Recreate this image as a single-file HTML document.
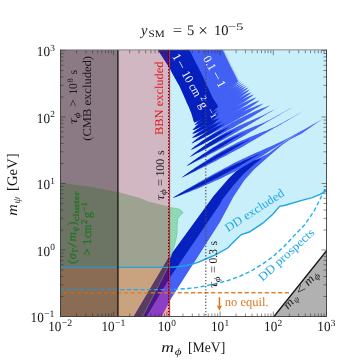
<!DOCTYPE html>
<html><head><meta charset="utf-8"><title>plot</title>
<style>
html,body{margin:0;padding:0;background:#fff;}
body{width:356px;height:362px;overflow:hidden;font-family:"Liberation Serif",serif;}
svg{display:block;}
svg text{font-family:"Liberation Serif",serif;text-rendering:geometricPrecision;}
</style></head><body>
<svg width="356" height="362" viewBox="0 0 356 362">
<rect width="356" height="362" fill="#fff"/>
<clipPath id="fr"><rect x="60" y="50" width="267" height="267"/></clipPath>
<g clip-path="url(#fr)">
<polygon points="60.0,50.0 327.0,50.0 327.0,190.6 320.0,194.4 312.2,197.6 300.0,200.8 285.2,205.2 279.6,206.3 272.8,214.2 262.7,223.2 258.0,226.4 249.2,232.0 241.3,234.5 234.0,241.5 228.0,247.8 215.5,254.8 205.7,259.0 198.0,262.3 190.0,264.8 180.0,266.5 169.4,267.4 60.0,267.4" fill="#c9effb" />
<polygon points="145.3,26.2 145.3,26.3 145.3,26.3 145.4,26.4 145.4,26.4 145.4,26.5 145.4,26.5 145.5,26.5 145.5,26.6 145.5,26.6 145.6,26.7 145.6,26.7 145.6,26.8 145.6,26.8 145.7,26.9 145.7,26.9 145.7,27.0 145.7,27.0 145.8,27.1 145.8,27.1 145.8,27.2 145.9,27.2 145.9,27.2 145.9,27.3 145.9,27.3 146.0,27.4 146.0,27.4 146.0,27.5 146.0,27.5 146.1,27.6 146.1,27.6 146.1,27.7 146.2,27.7 146.2,27.8 146.2,27.8 146.2,27.9 146.3,27.9 146.3,28.0 146.3,28.0 146.3,28.1 146.4,28.1 146.4,28.2 146.4,28.2 146.5,28.3 146.5,28.3 146.5,28.4 146.5,28.4 146.6,28.5 146.6,28.5 146.6,28.6 146.7,28.6 146.7,28.7 146.7,28.7 146.7,28.8 146.8,28.8 146.8,28.9 146.8,28.9 146.9,29.0 146.9,29.0 146.9,29.1 147.0,29.1 147.0,29.2 147.0,29.2 147.0,29.3 147.1,29.3 147.1,29.4 147.1,29.4 147.2,29.5 147.2,29.5 147.2,29.6 147.2,29.6 147.3,29.7 147.3,29.7 147.3,29.8 147.4,29.8 147.4,29.9 147.4,29.9 147.5,30.0 147.5,30.0 147.5,30.1 147.5,30.1 147.6,30.2 147.6,30.3 147.6,30.3 147.7,30.4 147.7,30.4 147.7,30.5 147.8,30.5 147.8,30.6 147.8,30.6 147.9,30.7 147.9,30.7 147.9,30.8 148.0,30.8 148.0,30.9 148.0,31.0 148.0,31.0 148.1,31.1 148.1,31.1 148.1,31.2 148.2,31.2 148.2,31.3 148.2,31.3 148.3,31.4 148.3,31.4 148.3,31.5 148.4,31.6 148.4,31.6 148.4,31.7 148.5,31.7 148.5,31.8 148.5,31.8 148.6,31.9 148.6,32.0 148.6,32.0 148.7,32.1 148.7,32.1 148.7,32.2 148.8,32.2 148.8,32.3 148.8,32.4 148.9,32.4 148.9,32.5 148.9,32.5 149.0,32.6 149.0,32.7 149.0,32.7 149.1,32.8 149.1,32.8 149.1,32.9 149.2,32.9 149.2,33.0 149.2,33.1 149.3,33.1 149.3,33.2 149.3,33.2 149.4,33.3 149.4,33.4 149.4,33.4 149.5,33.5 149.5,33.5 149.5,33.6 149.6,33.7 149.6,33.7 149.7,33.8 149.7,33.9 149.7,33.9 149.8,34.0 149.8,34.0 149.8,34.1 149.9,34.2 149.9,34.2 149.9,34.3 150.0,34.3 150.0,34.4 150.0,34.5 150.1,34.5 150.1,34.6 150.2,34.7 150.2,34.7 150.2,34.8 150.3,34.9 150.3,34.9 150.3,35.0 150.4,35.0 150.4,35.1 150.5,35.2 150.5,35.2 150.5,35.3 150.6,35.4 150.6,35.4 150.6,35.5 150.7,35.6 150.7,35.6 150.8,35.7 150.8,35.8 150.8,35.8 150.9,35.9 150.9,36.0 150.9,36.0 151.0,36.1 151.0,36.2 151.1,36.2 151.1,36.3 151.1,36.4 151.2,36.4 151.2,36.5 151.3,36.6 151.3,36.6 151.3,36.7 151.4,36.8 151.4,36.9 151.5,36.9 151.5,37.0 151.5,37.1 151.6,37.1 151.6,37.2 151.7,37.3 151.7,37.3 151.7,37.4 151.8,37.5 151.8,37.6 151.9,37.6 151.9,37.7 151.9,37.8 152.0,37.8 152.0,37.9 152.1,38.0 152.1,38.1 152.2,38.1 152.2,38.2 152.2,38.3 152.3,38.4 152.3,38.4 152.4,38.5 152.4,38.6 152.5,38.7 152.5,38.7 152.5,38.8 152.6,38.9 152.6,39.0 152.7,39.0 152.7,39.1 152.8,39.2 152.8,39.3 152.8,39.3 152.9,39.4 152.9,39.5 153.0,39.6 153.0,39.6 153.1,39.7 153.1,39.8 153.2,39.9 153.2,40.0 153.3,40.0 153.3,40.1 153.3,40.2 153.4,40.3 153.4,40.4 153.5,40.4 153.5,40.5 153.6,40.6 153.6,40.7 153.7,40.8 153.7,40.8 153.8,40.9 153.8,41.0 153.9,41.1 153.9,41.2 154.0,41.2 154.0,41.3 154.0,41.4 154.1,41.5 154.1,41.6 154.2,41.7 154.2,41.7 154.3,41.8 154.3,41.9 154.4,42.0 154.4,42.1 154.5,42.2 154.5,42.3 154.6,42.3 154.6,42.4 154.7,42.5 154.7,42.6 154.8,42.7 154.8,42.8 154.9,42.9 154.9,43.0 155.0,43.0 155.0,43.1 155.1,43.2 155.1,43.3 155.2,43.4 155.2,43.5 155.3,43.6 155.4,43.7 155.4,43.8 155.5,43.9 155.5,44.0 155.6,44.0 155.6,44.1 155.7,44.2 155.7,44.3 155.8,44.4 155.8,44.5 155.9,44.6 155.9,44.7 156.0,44.8 156.1,44.9 156.1,45.0 156.2,45.1 156.2,45.2 156.3,45.3 156.3,45.4 156.4,45.5 156.4,45.6 156.5,45.7 156.6,45.8 156.6,45.9 156.7,46.0 156.7,46.1 156.8,46.2 156.8,46.3 156.9,46.4 157.0,46.5 157.0,46.6 157.1,46.7 157.1,46.8 157.2,46.9 157.3,47.0 157.3,47.1 157.4,47.2 157.4,47.3 157.5,47.4 157.6,47.5 157.6,47.6 157.7,47.7 157.8,47.8 157.8,47.9 157.9,48.1 157.9,48.2 158.0,48.3 158.1,48.4 158.1,48.5 158.2,48.6 158.3,48.7 158.3,48.8 158.4,48.9 158.5,49.1 158.5,49.2 158.6,49.3 158.7,49.4 158.7,49.5 158.8,49.6 158.9,49.7 158.9,49.9 159.0,50.0 159.1,50.1 159.1,50.2 159.2,50.3 159.3,50.4 159.3,50.6 159.4,50.7 159.5,50.8 159.6,50.9 159.6,51.0 159.7,51.2 159.8,51.3 159.8,51.4 159.9,51.5 160.0,51.7 160.1,51.8 160.1,51.9 160.2,52.0 160.3,52.2 160.4,52.3 160.4,52.4 160.5,52.6 160.6,52.7 160.7,52.8 160.7,52.9 160.8,53.1 160.9,53.2 161.0,53.3 161.1,53.5 161.1,53.6 161.2,53.7 161.3,53.9 161.4,54.0 161.5,54.2 161.6,54.3 161.6,54.4 161.7,54.6 161.8,54.7 161.9,54.9 162.0,55.0 162.1,55.1 162.1,55.3 162.2,55.4 162.3,55.6 162.4,55.7 162.5,55.9 162.6,56.0 162.7,56.2 162.8,56.3 162.8,56.5 162.9,56.6 163.0,56.8 163.1,56.9 163.2,57.1 163.3,57.2 163.4,57.4 163.5,57.6 163.6,57.7 163.7,57.9 163.8,58.0 163.9,58.2 164.0,58.4 164.1,58.5 164.2,58.7 164.3,58.9 164.4,59.0 164.5,59.2 164.6,59.4 164.7,59.5 164.8,59.7 164.9,59.9 165.0,60.1 165.1,60.2 165.2,60.4 165.3,60.6 165.4,60.8 165.5,60.9 165.6,61.1 165.7,61.3 165.8,61.5 165.9,61.7 166.1,61.9 166.2,62.1 166.3,62.3 166.4,62.4 166.5,62.6 166.6,62.8 166.7,63.0 166.9,63.2 167.0,63.4 167.1,63.6 167.2,63.8 167.3,64.0 167.5,64.2 167.6,64.5 167.7,64.7 167.8,64.9 168.0,65.1 168.1,65.3 168.2,65.5 168.4,65.7 168.5,66.0 168.6,66.2 168.8,66.4 168.9,66.6 169.0,66.9 169.2,67.1 169.3,67.4 169.4,67.6 169.5,67.8 169.7,68.1 169.8,68.3 169.9,68.6 170.1,68.9 170.2,69.1 170.3,69.4 170.5,69.6 170.6,69.9 170.8,70.2 170.9,70.5 171.0,70.7 171.2,71.0 171.3,71.3 171.5,71.6 171.6,71.9 171.8,72.2 171.9,72.4 172.1,72.7 172.3,73.0 172.4,73.4 172.6,73.7 172.7,74.0 172.9,74.3 173.1,74.6 173.2,74.9 173.4,75.3 173.6,75.6 173.8,75.9 174.0,76.3 174.2,76.6 174.3,77.0 174.5,77.3 174.7,77.7 175.0,78.0 175.2,78.4 175.4,78.8 175.6,79.1 175.8,79.5 176.0,79.9 176.2,80.3 176.5,80.7 176.7,81.1 176.9,81.5 177.2,81.9 177.4,82.4 177.7,82.8 177.9,83.2 178.2,83.7 178.4,84.2 178.7,84.6 179.0,85.1 179.3,85.6 179.5,86.1 179.8,86.6 180.0,87.2 180.3,87.7 180.5,88.3 180.8,88.9 181.1,89.5 181.3,90.1 181.6,90.7 181.9,91.3 182.2,92.0 182.5,92.6 182.8,93.3 183.1,94.0 183.4,94.8 183.8,95.5 184.1,96.3 184.5,97.0 184.8,97.9 185.2,98.7 185.6,99.6 186.0,100.5 186.4,101.4 186.8,102.4 187.2,103.4 187.7,104.4 188.2,105.5 188.7,106.6 189.2,107.8 189.7,109.1 190.3,110.4 190.8,111.7 238.3,81.3 237.5,80.0 236.9,78.8 236.3,77.6 235.8,76.5 235.2,75.5 234.7,74.4 234.2,73.4 233.7,72.5 233.3,71.6 232.8,70.7 232.4,69.9 232.0,69.0 231.6,68.2 231.2,67.5 230.8,66.7 230.4,66.0 230.1,65.3 229.7,64.6 229.4,63.9 229.1,63.2 228.8,62.6 228.5,61.9 228.2,61.3 227.9,60.7 227.6,60.1 227.4,59.6 227.1,59.0 226.8,58.4 226.6,57.9 226.3,57.4 226.1,56.9 225.8,56.4 225.6,55.9 225.4,55.4 225.1,54.9 224.9,54.4 224.7,54.0 224.5,53.5 224.3,53.1 224.1,52.6 223.9,52.2 223.6,51.8 223.4,51.4 223.3,51.0 223.1,50.6 222.9,50.2 222.7,49.8 222.5,49.4 222.3,49.0 222.2,48.6 222.0,48.3 221.8,47.9 221.6,47.6 221.5,47.2 221.3,46.9 221.2,46.5 221.0,46.2 220.8,45.8 220.7,45.5 220.5,45.2 220.4,44.9 220.2,44.5 220.1,44.2 219.9,43.9 219.8,43.6 219.7,43.3 219.5,43.0 219.4,42.7 219.2,42.4 219.1,42.1 219.0,41.8 218.8,41.6 218.7,41.3 218.6,41.0 218.4,40.7 218.3,40.5 218.2,40.2 218.1,39.9 217.9,39.7 217.8,39.4 217.7,39.1 217.6,38.9 217.5,38.6 217.3,38.4 217.2,38.1 217.1,37.9 217.0,37.6 216.9,37.4 216.8,37.2 216.7,36.9 216.6,36.7 216.4,36.5 216.3,36.2 216.2,36.0 216.1,35.8 216.0,35.6 215.9,35.3 215.8,35.1 215.7,34.9 215.6,34.7 215.5,34.5 215.4,34.3 215.3,34.1 215.2,33.9 215.1,33.7 214.9,33.5 214.8,33.3 214.7,33.1 214.6,32.9 214.5,32.7 214.5,32.5 214.4,32.3 214.3,32.1 214.2,31.9 214.1,31.7 214.0,31.5 213.9,31.3 213.8,31.2 213.7,31.0 213.6,30.8 213.5,30.6 213.4,30.4 213.3,30.3 213.2,30.1 213.2,29.9 213.1,29.7 213.0,29.6 212.9,29.4 212.8,29.2 212.7,29.0 212.6,28.9 212.6,28.7 212.5,28.5 212.4,28.4 212.3,28.2 212.2,28.0 212.1,27.9 212.1,27.7 212.0,27.6 211.9,27.4 211.8,27.2 211.7,27.1 211.7,26.9 211.6,26.8 211.5,26.6 211.4,26.5 211.4,26.3 211.3,26.2 211.2,26.0 211.1,25.9 211.1,25.7 211.0,25.6 210.9,25.4 210.8,25.3 210.8,25.1 210.7,25.0 210.6,24.8 210.5,24.7 210.5,24.6 210.4,24.4 210.3,24.3 210.3,24.1 210.2,24.0 210.1,23.9 210.0,23.7 210.0,23.6 209.9,23.5 209.8,23.3 209.8,23.2 209.7,23.1 209.6,22.9 209.6,22.8 209.5,22.7 209.4,22.5 209.4,22.4 209.3,22.3 209.2,22.1 209.2,22.0 209.1,21.9 209.1,21.8 209.0,21.6 208.9,21.5 208.9,21.4 208.8,21.3 208.7,21.1 208.7,21.0 208.6,20.9 208.6,20.8 208.5,20.6 208.4,20.5 208.4,20.4 208.3,20.3 208.3,20.2 208.2,20.0 208.1,19.9 208.1,19.8 208.0,19.7 208.0,19.6 207.9,19.5 207.8,19.3 207.8,19.2 207.7,19.1 207.7,19.0 207.6,18.9 207.6,18.8 207.5,18.7 207.4,18.5 207.4,18.4 207.3,18.3 207.3,18.2 207.2,18.1 207.2,18.0 207.1,17.9 207.1,17.8 207.0,17.7 206.9,17.6 206.9,17.5 206.8,17.3 206.8,17.2 206.7,17.1 206.7,17.0 206.6,16.9 206.6,16.8 206.5,16.7 206.5,16.6 206.4,16.5 206.4,16.4 206.3,16.3 206.3,16.2 206.2,16.1 206.2,16.0 206.1,15.9 206.1,15.8 206.0,15.7 206.0,15.6 205.9,15.5 205.9,15.4 205.8,15.3 205.8,15.2 205.7,15.1 205.7,15.0 205.6,14.9 205.6,14.8 205.5,14.7 205.5,14.6 205.4,14.5 205.4,14.4 205.3,14.3 205.3,14.3 205.2,14.2 205.2,14.1 205.1,14.0 205.1,13.9 205.0,13.8 205.0,13.7 205.0,13.6 204.9,13.5 204.9,13.4 204.8,13.3 204.8,13.2 204.7,13.1 204.7,13.1 204.6,13.0 204.6,12.9 204.5,12.8 204.5,12.7 204.5,12.6 204.4,12.5 204.4,12.4 204.3,12.4 204.3,12.3 204.2,12.2 204.2,12.1 204.2,12.0 204.1,11.9 204.1,11.8 204.0,11.7 204.0,11.7 203.9,11.6 203.9,11.5 203.9,11.4 203.8,11.3 203.8,11.2 203.7,11.2 203.7,11.1 203.6,11.0 203.6,10.9 203.6,10.8 203.5,10.7 203.5,10.7 203.4,10.6 203.4,10.5 203.4,10.4 203.3,10.3 203.3,10.3 203.2,10.2 203.2,10.1 203.2,10.0 203.1,9.9 203.1,9.9 203.0,9.8 203.0,9.7 203.0,9.6 202.9,9.5 202.9,9.5 202.8,9.4 202.8,9.3 202.8,9.2 202.7,9.2 202.7,9.1 202.6,9.0 202.6,8.9 202.6,8.9 202.5,8.8 202.5,8.7 202.5,8.6 202.4,8.6 202.4,8.5 202.3,8.4 202.3,8.3 202.3,8.3 202.2,8.2 202.2,8.1 202.2,8.0 202.1,8.0 202.1,7.9 202.0,7.8 202.0,7.7 202.0,7.7 201.9,7.6 201.9,7.5 201.9,7.5 201.8,7.4 201.8,7.3 201.8,7.2 201.7,7.2 201.7,7.1 201.7,7.0 201.6,7.0 201.6,6.9 201.5,6.8 201.5,6.7 201.5,6.7 201.4,6.6 201.4,6.5 201.4,6.5 201.3,6.4 201.3,6.3 201.3,6.3 201.2,6.2 201.2,6.1 201.2,6.1 201.1,6.0 201.1,5.9 201.1,5.9 201.0,5.8 201.0,5.7 201.0,5.7 200.9,5.6 200.9,5.5 200.9,5.5 200.8,5.4 200.8,5.3 200.8,5.3 200.7,5.2 200.7,5.1 200.7,5.1 200.6,5.0 200.6,4.9 200.6,4.9 200.5,4.8 200.5,4.7 200.5,4.7 200.4,4.6 200.4,4.5 200.4,4.5 200.3,4.4 200.3,4.4 200.3,4.3 200.2,4.2 200.2,4.2 200.2,4.1 200.1,4.0 200.1,4.0 200.1,3.9 200.1,3.8 200.0,3.8 200.0,3.7 200.0,3.7 199.9,3.6 199.9,3.5 199.9,3.5 199.8,3.4 199.8,3.4 199.8,3.3 199.7,3.2 199.7,3.2 199.7,3.1 199.7,3.1 199.6,3.0 199.6,2.9 199.6,2.9 199.5,2.8 199.5,2.8 199.5,2.7 199.4,2.6 199.4,2.6 199.4,2.5 199.4,2.5 199.3,2.4 199.3,2.3 199.3,2.3 199.2,2.2 199.2,2.2 199.2,2.1 199.1,2.0 199.1,2.0 199.1,1.9 199.1,1.9 199.0,1.8 199.0,1.8 199.0,1.7 198.9,1.6 198.9,1.6 198.9,1.5 198.9,1.5 198.8,1.4 198.8,1.4 198.8,1.3 198.7,1.2 198.7,1.2 198.7,1.1 198.7,1.1 198.6,1.0 198.6,1.0 198.6,0.9 198.6,0.9 198.5,0.8 198.5,0.7 198.5,0.7 198.4,0.6 198.4,0.6 198.4,0.5 198.4,0.5 198.3,0.4 198.3,0.4 198.3,0.3 198.2,0.3 198.2,0.2 198.2,0.2 198.2,0.1 198.1,0.0 198.1,-0.0 198.1,-0.1 198.1,-0.1 198.0,-0.2 198.0,-0.2 198.0,-0.3 198.0,-0.3 197.9,-0.4 197.9,-0.4 197.9,-0.5 197.8,-0.5 197.8,-0.6 197.8,-0.6 197.8,-0.7 197.7,-0.7 197.7,-0.8 197.7,-0.8 197.7,-0.9 197.6,-1.0 197.6,-1.0 197.6,-1.1 197.6,-1.1 197.5,-1.2 197.5,-1.2 197.5,-1.3 197.5,-1.3 197.4,-1.4 197.4,-1.4 197.4,-1.5 197.4,-1.5 197.3,-1.6 197.3,-1.6 197.3,-1.7 197.3,-1.7 197.2,-1.8 197.2,-1.8 197.2,-1.9 197.2,-1.9 197.1,-2.0 197.1,-2.0 197.1,-2.1 197.1,-2.1 197.0,-2.2 197.0,-2.2 197.0,-2.3 197.0,-2.3 196.9,-2.4 196.9,-2.4 196.9,-2.5 196.9,-2.5 196.8,-2.5 196.8,-2.6 196.8,-2.6 196.8,-2.7 196.7,-2.7 196.7,-2.8 196.7,-2.8 196.7,-2.9 196.6,-2.9 196.6,-3.0 196.6,-3.0 196.6,-3.1 196.6,-3.1 196.5,-3.2 196.5,-3.2 196.5,-3.3 196.5,-3.3 196.4,-3.4 196.4,-3.4 196.4,-3.4 196.4,-3.5 196.3,-3.5 196.3,-3.6 196.3,-3.6 196.3,-3.7 196.2,-3.7 196.2,-3.8 196.2,-3.8 196.2,-3.9" fill="#4361f4" />
<polygon points="172.6,198.0 175.6,196.1 178.6,194.2 181.6,192.4 184.7,190.6 187.7,188.8 190.8,187.0 193.8,185.3 196.9,183.5 199.9,181.7 203.0,180.0 206.1,178.2 209.2,176.5 212.3,174.8 215.4,173.1 218.5,171.4 221.6,169.7 224.7,168.1 227.8,166.4 230.9,164.8 234.0,163.1 237.2,161.5 240.4,160.0 243.6,158.5 246.8,157.0 250.0,155.5 253.2,154.0 256.4,152.6 259.7,151.2 262.9,149.8 266.2,148.3 269.4,146.9 272.7,145.5 275.9,144.1 279.1,142.6 282.3,141.1 285.5,139.6 288.6,138.0 291.7,136.3 294.8,134.5 297.9,132.8 301.0,131.1 304.1,129.4 307.2,127.7 310.2,125.9 313.3,124.2 316.4,122.4 319.4,120.7 322.5,118.9 322.5,118.9 319.5,120.7 316.5,122.6 313.4,124.4 310.4,126.2 307.4,128.0 304.3,129.8 301.3,131.6 298.2,133.4 295.2,135.2 292.1,137.0 289.1,138.8 286.0,140.6 283.0,142.4 280.0,144.4 277.1,146.3 274.1,148.2 271.1,150.1 268.1,152.1 265.1,154.0 262.1,155.9 259.1,157.7 256.1,159.6 253.1,161.4 250.1,163.2 247.0,165.0 243.9,166.7 240.8,168.4 237.7,170.0 234.6,171.7 231.4,173.2 228.2,174.8 225.1,176.3 221.9,177.9 218.7,179.4 215.4,180.8 212.2,182.3 209.0,183.7 205.7,185.1 202.5,186.5 199.2,187.9 195.9,189.2 192.6,190.5 189.3,191.9 186.0,193.1 182.7,194.4 179.3,195.7 176.0,196.9 172.6,198.0" fill="#4361f4" />
<polygon points="181.4,177.8 183.7,175.9 186.1,174.2 188.6,172.4 191.0,170.7 193.4,169.0 195.9,167.3 198.3,165.7 200.8,164.0 203.3,162.4 205.8,160.8 208.3,159.2 210.8,157.6 213.3,156.1 215.8,154.5 218.3,153.0 220.9,151.5 223.5,150.0 226.0,148.6 228.6,147.2 231.2,145.7 233.8,144.4 236.5,143.1 239.1,141.8 241.8,140.6 244.5,139.4 247.3,138.2 250.0,137.0 252.8,135.9 255.5,134.8 258.3,133.7 261.0,132.6 263.8,131.5 266.6,130.4 269.3,129.3 272.0,128.1 274.7,126.9 277.4,125.5 280.0,124.1 282.5,122.7 285.1,121.3 287.7,119.8 290.3,118.4 292.9,117.0 295.5,115.6 298.1,114.1 300.6,112.7 303.2,111.2 305.8,109.8 305.8,109.8 303.3,111.3 300.7,112.8 298.2,114.3 295.6,115.8 293.1,117.3 290.5,118.8 288.0,120.3 285.4,121.7 282.8,123.2 280.3,124.7 277.7,126.2 275.2,127.6 272.6,129.1 270.1,130.6 267.5,132.1 265.0,133.6 262.4,135.1 259.9,136.6 257.3,138.1 254.8,139.6 252.2,141.1 249.7,142.6 247.1,144.0 244.5,145.5 242.0,147.0 239.4,148.4 236.8,149.8 234.2,151.2 231.6,152.6 229.0,154.0 226.4,155.4 223.8,156.8 221.1,158.1 218.5,159.5 215.9,160.9 213.3,162.2 210.6,163.5 208.0,164.9 205.4,166.2 202.7,167.5 200.1,168.8 197.4,170.1 194.8,171.4 192.1,172.7 189.4,174.0 186.8,175.3 184.1,176.6 181.4,177.8" fill="#4361f4" />
<polygon points="186.7,166.0 188.7,164.3 190.8,162.8 192.8,161.2 194.9,159.7 197.0,158.2 199.1,156.7 201.2,155.3 203.3,153.8 205.5,152.4 207.6,150.9 209.7,149.5 211.9,148.1 214.0,146.8 216.2,145.4 218.4,144.1 220.6,142.7 222.8,141.4 225.0,140.1 227.2,138.9 229.5,137.6 231.7,136.4 234.0,135.3 236.3,134.2 238.6,133.1 241.0,132.0 243.3,131.0 245.7,130.0 248.1,129.0 250.5,128.0 252.9,127.1 255.3,126.1 257.7,125.2 260.0,124.2 262.4,123.2 264.8,122.2 267.1,121.1 269.4,119.9 271.6,118.7 273.9,117.5 276.1,116.3 278.4,115.0 280.6,113.8 282.8,112.5 285.1,111.3 287.3,110.0 289.5,108.8 291.8,107.6 294.0,106.3 294.0,106.3 291.8,107.6 289.6,108.9 287.4,110.2 285.2,111.5 283.0,112.8 280.8,114.1 278.6,115.4 276.3,116.7 274.1,118.0 271.9,119.2 269.7,120.5 267.5,121.8 265.3,123.1 263.1,124.4 260.9,125.7 258.7,127.1 256.5,128.4 254.3,129.7 252.1,131.0 249.9,132.3 247.7,133.6 245.5,134.9 243.3,136.2 241.1,137.4 238.8,138.7 236.6,140.0 234.4,141.2 232.2,142.5 229.9,143.7 227.7,144.9 225.4,146.2 223.2,147.4 220.9,148.6 218.7,149.8 216.4,151.0 214.1,152.2 211.9,153.3 209.6,154.5 207.3,155.7 205.0,156.9 202.8,158.0 200.5,159.2 198.2,160.3 195.9,161.5 193.6,162.6 191.3,163.8 189.0,164.9 186.7,166.0" fill="#4361f4" />
<polygon points="189.7,157.0 191.4,155.5 193.1,154.2 194.8,152.8 196.6,151.5 198.4,150.2 200.1,148.9 201.9,147.6 203.7,146.3 205.5,145.1 207.3,143.8 209.1,142.6 210.9,141.4 212.7,140.2 214.6,139.0 216.4,137.9 218.3,136.7 220.1,135.6 222.0,134.5 223.9,133.4 225.8,132.3 227.7,131.3 229.7,130.3 231.6,129.4 233.6,128.4 235.5,127.5 237.5,126.5 239.5,125.6 241.5,124.7 243.5,123.8 245.5,122.9 247.5,122.0 249.5,121.2 251.5,120.3 253.5,119.4 255.5,118.6 257.5,117.7 259.5,116.8 261.5,115.9 263.5,115.0 265.5,114.1 267.4,113.1 269.3,112.1 271.3,111.0 273.2,110.0 275.1,108.9 277.0,107.9 278.9,106.9 280.8,105.8 280.8,105.8 278.9,106.9 277.1,108.0 275.2,109.1 273.3,110.3 271.4,111.4 269.6,112.5 267.7,113.6 265.8,114.7 264.0,115.8 262.1,116.9 260.2,118.1 258.4,119.2 256.5,120.3 254.6,121.4 252.8,122.5 250.9,123.7 249.0,124.8 247.1,125.9 245.3,127.0 243.4,128.1 241.5,129.2 239.6,130.3 237.7,131.4 235.9,132.5 234.0,133.6 232.1,134.7 230.2,135.7 228.3,136.8 226.4,137.9 224.5,138.9 222.6,140.0 220.7,141.0 218.8,142.0 216.8,143.1 214.9,144.1 213.0,145.1 211.1,146.1 209.1,147.1 207.2,148.2 205.3,149.2 203.3,150.2 201.4,151.2 199.5,152.1 197.5,153.1 195.6,154.1 193.6,155.1 191.7,156.0 189.7,157.0" fill="#4361f4" />
<polygon points="190.8,150.0 192.2,148.6 193.6,147.3 195.1,146.1 196.7,145.0 198.2,143.9 199.7,142.7 201.3,141.6 202.9,140.5 204.4,139.5 206.0,138.4 207.6,137.3 209.1,136.3 210.7,135.3 212.3,134.2 213.9,133.2 215.5,132.2 217.1,131.2 218.8,130.2 220.4,129.2 222.0,128.3 223.6,127.3 225.3,126.3 226.9,125.4 228.6,124.5 230.2,123.6 231.9,122.6 233.5,121.7 235.2,120.9 236.9,120.0 238.6,119.1 240.3,118.3 242.0,117.4 243.7,116.6 245.4,115.8 247.1,114.9 248.8,114.1 250.5,113.3 252.3,112.6 254.0,111.8 255.7,111.0 257.5,110.3 259.2,109.5 261.0,108.8 262.8,108.1 264.5,107.4 266.3,106.7 268.1,106.0 270.0,105.5 270.0,105.5 268.4,106.5 266.8,107.5 265.2,108.5 263.6,109.5 262.0,110.5 260.4,111.5 258.7,112.5 257.1,113.5 255.5,114.5 253.9,115.5 252.3,116.4 250.6,117.4 249.0,118.4 247.4,119.3 245.7,120.3 244.1,121.2 242.5,122.2 240.8,123.2 239.2,124.1 237.6,125.0 235.9,126.0 234.3,126.9 232.6,127.9 231.0,128.8 229.3,129.7 227.7,130.6 226.0,131.5 224.4,132.5 222.7,133.4 221.0,134.3 219.4,135.2 217.7,136.1 216.1,137.0 214.4,137.9 212.7,138.8 211.0,139.7 209.4,140.6 207.7,141.4 206.0,142.3 204.3,143.2 202.7,144.1 201.0,144.9 199.3,145.8 197.6,146.7 195.9,147.5 194.2,148.4 192.5,149.2 190.8,150.0" fill="#4361f4" />
<polygon points="191.6,143.5 192.8,142.2 194.2,141.0 195.5,139.9 196.9,138.8 198.3,137.8 199.7,136.8 201.1,135.8 202.5,134.8 204.0,133.8 205.4,132.8 206.8,131.8 208.3,130.9 209.7,129.9 211.2,129.0 212.6,128.1 214.1,127.1 215.5,126.2 217.0,125.3 218.5,124.4 220.0,123.6 221.5,122.7 223.0,121.8 224.5,121.0 226.0,120.1 227.5,119.3 229.0,118.5 230.5,117.7 232.1,116.9 233.6,116.1 235.1,115.3 236.7,114.6 238.2,113.8 239.8,113.1 241.4,112.3 242.9,111.6 244.5,110.9 246.1,110.2 247.7,109.5 249.3,108.8 250.9,108.2 252.5,107.5 254.1,106.9 255.7,106.2 257.3,105.6 259.0,105.0 260.6,104.4 262.3,103.9 264.0,103.4 264.0,103.4 262.5,104.3 261.1,105.2 259.6,106.2 258.1,107.1 256.7,108.0 255.2,108.8 253.7,109.7 252.2,110.6 250.8,111.5 249.3,112.4 247.8,113.3 246.3,114.2 244.8,115.0 243.3,115.9 241.8,116.8 240.3,117.6 238.8,118.5 237.3,119.3 235.9,120.2 234.4,121.0 232.8,121.9 231.3,122.7 229.8,123.6 228.3,124.4 226.8,125.2 225.3,126.1 223.8,126.9 222.3,127.7 220.8,128.6 219.3,129.4 217.7,130.2 216.2,131.0 214.7,131.8 213.2,132.6 211.6,133.4 210.1,134.2 208.6,135.0 207.1,135.8 205.5,136.6 204.0,137.4 202.4,138.2 200.9,139.0 199.4,139.7 197.8,140.5 196.3,141.3 194.7,142.0 193.2,142.8 191.6,143.5" fill="#4361f4" />
<polygon points="192.0,138.0 194.9,135.2 198.1,133.0 201.3,130.8 204.6,128.8 207.9,126.7 211.2,124.7 214.6,122.8 218.0,120.8 221.3,118.9 224.7,117.0 228.1,115.2 231.6,113.4 235.0,111.6 238.5,109.8 241.9,108.1 245.4,106.4 248.9,104.7 252.5,103.1 256.0,101.5 259.8,100.3 259.8,100.3 256.8,102.8 253.6,105.1 250.3,107.2 247.1,109.3 243.8,111.4 240.5,113.4 237.1,115.4 233.8,117.4 230.4,119.3 227.1,121.3 223.7,123.2 220.3,125.0 216.9,126.9 213.4,128.7 210.0,130.4 206.5,132.2 203.0,133.8 199.5,135.5 195.9,137.0 192.0,138.0" fill="#4361f4" />
<polygon points="192.3,133.8 195.0,131.1 198.0,128.9 201.1,126.8 204.2,124.8 207.3,122.8 210.5,120.9 213.6,119.0 216.8,117.1 220.0,115.2 223.2,113.4 226.4,111.6 229.7,109.9 233.0,108.1 236.2,106.4 239.5,104.7 242.8,103.1 246.2,101.5 249.5,99.9 252.9,98.4 256.5,97.2 256.5,97.2 253.7,99.7 250.6,101.8 247.6,103.9 244.5,106.0 241.4,108.0 238.2,109.9 235.1,111.9 231.9,113.8 228.8,115.7 225.6,117.6 222.4,119.4 219.2,121.2 215.9,123.0 212.7,124.8 209.4,126.5 206.1,128.2 202.8,129.8 199.4,131.4 196.0,132.8 192.3,133.8" fill="#4361f4" />
<polygon points="192.5,130.0 195.1,127.4 197.9,125.2 200.9,123.2 203.8,121.2 206.8,119.3 209.8,117.4 212.9,115.5 215.9,113.7 219.0,111.9 222.1,110.1 225.2,108.3 228.3,106.6 231.4,104.9 234.5,103.3 237.7,101.6 240.9,100.0 244.1,98.4 247.3,96.9 250.6,95.4 254.0,94.3 254.0,94.3 251.3,96.7 248.4,98.8 245.5,100.9 242.5,102.9 239.6,104.8 236.6,106.8 233.6,108.7 230.5,110.5 227.5,112.4 224.4,114.2 221.4,116.0 218.3,117.8 215.2,119.5 212.1,121.2 208.9,122.9 205.8,124.5 202.6,126.1 199.4,127.6 196.1,129.1 192.5,130.0" fill="#4361f4" />
<polygon points="194.8,127.7 197.1,125.1 199.8,123.0 202.5,120.9 205.2,119.0 207.9,117.0 210.7,115.1 213.5,113.3 216.3,111.5 219.2,109.7 222.0,107.9 224.9,106.1 227.8,104.4 230.7,102.7 233.6,101.0 236.5,99.4 239.5,97.8 242.4,96.2 245.4,94.6 248.5,93.2 251.7,92.0 251.7,92.0 249.2,94.4 246.6,96.5 243.9,98.5 241.2,100.5 238.4,102.5 235.7,104.4 232.9,106.3 230.1,108.1 227.3,110.0 224.5,111.8 221.6,113.6 218.8,115.4 215.9,117.1 213.0,118.8 210.1,120.5 207.2,122.1 204.2,123.7 201.2,125.3 198.2,126.7 194.8,127.7" fill="#4361f4" />
<polygon points="194.6,124.9 196.9,122.4 199.5,120.3 202.1,118.3 204.7,116.4 207.4,114.5 210.1,112.6 212.8,110.8 215.6,109.0 218.3,107.2 221.1,105.4 223.9,103.7 226.6,102.0 229.5,100.3 232.3,98.7 235.1,97.0 238.0,95.4 240.8,93.8 243.7,92.3 246.7,90.8 249.8,89.6 249.8,89.6 247.4,91.9 244.8,94.0 242.2,96.0 239.6,97.9 236.9,99.8 234.2,101.7 231.5,103.6 228.8,105.4 226.1,107.2 223.4,109.0 220.6,110.8 217.8,112.5 215.1,114.3 212.3,116.0 209.4,117.6 206.6,119.3 203.7,120.8 200.8,122.4 197.9,123.9 194.6,124.9" fill="#4361f4" />
<polygon points="194.1,122.5 196.4,120.1 198.9,118.0 201.5,116.1 204.2,114.1 206.8,112.2 209.5,110.4 212.2,108.6 214.9,106.7 217.6,105.0 220.4,103.2 223.1,101.5 225.9,99.8 228.7,98.1 231.5,96.4 234.3,94.7 237.1,93.1 240.0,91.5 242.8,90.0 245.7,88.5 248.8,87.2 248.8,87.2 246.4,89.5 243.8,91.5 241.2,93.5 238.6,95.4 235.9,97.3 233.3,99.2 230.6,101.1 227.9,102.9 225.2,104.7 222.5,106.5 219.8,108.3 217.0,110.0 214.3,111.8 211.5,113.5 208.7,115.1 205.9,116.8 203.0,118.4 200.2,120.0 197.3,121.4 194.1,122.5" fill="#4361f4" />
<polygon points="193.4,120.4 198.2,116.1 203.4,112.3 208.6,108.6 213.9,105.0 219.3,101.6 224.7,98.2 230.1,94.9 235.6,91.6 241.2,88.5 247.0,85.8 247.0,85.8 242.1,89.9 237.0,93.8 231.8,97.5 226.5,101.1 221.2,104.6 215.9,108.1 210.4,111.5 205.0,114.7 199.4,117.9 193.4,120.4" fill="#4361f4" />
<polygon points="192.9,118.5 197.6,114.2 202.6,110.5 207.8,106.9 213.0,103.4 218.2,100.0 223.6,96.7 228.9,93.5 234.3,90.3 239.8,87.2 245.5,84.5 245.5,84.5 240.7,88.6 235.6,92.3 230.5,95.9 225.3,99.4 220.1,102.9 214.8,106.3 209.5,109.6 204.1,112.8 198.7,115.9 192.9,118.5" fill="#4361f4" />
<polygon points="192.3,116.6 197.0,112.5 201.9,108.9 207.0,105.4 212.1,102.0 217.3,98.6 222.5,95.4 227.7,92.2 233.1,89.0 238.4,86.0 244.0,83.3 244.0,83.3 239.2,87.3 234.3,90.9 229.2,94.4 224.1,97.9 219.0,101.3 213.8,104.6 208.6,107.9 203.3,111.0 198.0,114.1 192.3,116.6" fill="#4361f4" />
<polygon points="191.8,114.9 196.4,110.9 201.3,107.3 206.3,103.9 211.3,100.6 216.4,97.3 221.5,94.1 226.7,90.9 231.9,87.9 237.1,84.9 242.6,82.2 242.6,82.2 237.9,86.1 233.0,89.6 228.0,93.1 223.0,96.5 218.0,99.8 212.9,103.1 207.8,106.3 202.6,109.4 197.3,112.4 191.8,114.9" fill="#4361f4" />
<polygon points="191.3,113.3 195.8,109.4 200.7,105.9 205.6,102.5 210.5,99.2 215.5,96.0 220.6,92.9 225.6,89.8 230.7,86.8 235.9,83.8 241.3,81.2 241.3,81.2 236.6,84.9 231.8,88.4 226.9,91.8 222.0,95.1 217.0,98.4 212.0,101.6 207.0,104.8 201.9,107.8 196.7,110.8 191.3,113.3" fill="#4361f4" />
<polygon points="190.8,111.7 195.3,107.9 200.1,104.5 204.9,101.2 209.8,98.0 214.7,94.8 219.7,91.7 224.6,88.7 229.7,85.7 234.8,82.8 240.0,80.2 240.0,80.2 235.4,83.9 230.7,87.3 225.9,90.6 221.0,93.9 216.2,97.1 211.2,100.2 206.3,103.3 201.3,106.3 196.2,109.2 190.8,111.7" fill="#4361f4" />
<polygon points="190.3,110.4 194.8,106.6 199.5,103.2 204.3,99.9 209.2,96.7 214.1,93.6 219.0,90.5 224.0,87.5 229.0,84.5 234.0,81.6 239.3,78.9 239.3,78.9 234.7,82.6 229.9,86.0 225.1,89.3 220.3,92.5 215.5,95.7 210.5,98.9 205.6,101.9 200.6,104.9 195.6,107.9 190.3,110.4" fill="#4361f4" />
<polygon points="189.7,109.1 194.2,105.3 199.0,102.0 203.8,98.7 208.6,95.5 213.5,92.4 218.4,89.3 223.4,86.3 228.4,83.3 233.4,80.4 238.6,77.7 238.6,77.7 234.1,81.3 229.3,84.7 224.5,88.0 219.7,91.2 214.8,94.4 209.9,97.5 205.0,100.6 200.0,103.6 195.0,106.5 189.7,109.1" fill="#4361f4" />
<polygon points="189.2,107.8 193.7,104.1 198.4,100.8 203.2,97.5 208.1,94.3 213.0,91.2 217.9,88.1 222.8,85.1 227.8,82.1 232.9,79.2 238.0,76.6 238.0,76.6 233.4,80.1 228.7,83.5 223.9,86.8 219.1,90.0 214.2,93.2 209.3,96.3 204.4,99.4 199.4,102.4 194.4,105.3 189.2,107.8" fill="#4361f4" />
<polygon points="188.7,106.6 193.2,103.0 197.9,99.6 202.7,96.4 207.6,93.2 212.5,90.1 217.4,87.0 222.3,84.0 227.3,81.0 232.3,78.1 237.5,75.4 237.5,75.4 232.9,79.0 228.1,82.3 223.3,85.6 218.5,88.8 213.7,92.0 208.8,95.1 203.9,98.2 198.9,101.2 193.9,104.1 188.7,106.6" fill="#4361f4" />
<polygon points="188.2,105.5 192.7,101.9 197.5,98.6 202.3,95.3 207.1,92.2 212.0,89.0 216.9,86.0 221.8,83.0 226.8,80.0 231.8,77.1 236.9,74.4 236.9,74.4 232.3,77.9 227.6,81.2 222.8,84.5 218.0,87.7 213.1,90.8 208.2,93.9 203.3,97.0 198.4,100.0 193.4,102.9 188.2,105.5" fill="#4361f4" />
<polygon points="187.7,104.4 192.2,100.8 197.0,97.5 201.8,94.3 206.6,91.1 211.5,88.0 216.4,85.0 221.3,81.9 226.3,79.0 231.3,76.0 236.4,73.3 236.4,73.3 231.8,76.9 227.0,80.2 222.3,83.4 217.4,86.6 212.6,89.7 207.7,92.9 202.8,95.9 197.9,98.9 192.9,101.8 187.7,104.4" fill="#4361f4" />
<polygon points="187.2,103.4 191.8,99.8 196.5,96.5 201.3,93.3 206.2,90.1 211.0,87.0 215.9,84.0 220.9,81.0 225.8,78.0 230.8,75.1 235.9,72.4 235.9,72.4 231.3,75.9 226.5,79.1 221.8,82.4 216.9,85.6 212.1,88.7 207.2,91.8 202.3,94.8 197.4,97.8 192.4,100.8 187.2,103.4" fill="#4361f4" />
<polygon points="186.8,102.4 191.4,98.8 196.1,95.5 200.9,92.3 205.7,89.2 210.6,86.1 215.5,83.0 220.4,80.0 225.3,77.1 230.3,74.1 235.4,71.4 235.4,71.4 230.8,74.9 226.1,78.2 221.3,81.4 216.5,84.6 211.6,87.7 206.8,90.8 201.9,93.8 196.9,96.8 192.0,99.7 186.8,102.4" fill="#4361f4" />
<polygon points="186.4,101.4 191.0,97.9 195.7,94.6 200.5,91.4 205.3,88.3 210.2,85.2 215.1,82.1 220.0,79.1 224.9,76.1 229.9,73.2 235.0,70.5 235.0,70.5 230.3,74.0 225.6,77.2 220.8,80.4 216.0,83.6 211.2,86.7 206.3,89.8 201.4,92.9 196.5,95.8 191.5,98.8 186.4,101.4" fill="#4361f4" />
<polygon points="186.0,100.5 190.6,97.0 195.3,93.7 200.1,90.5 204.9,87.4 209.8,84.3 214.7,81.3 219.6,78.2 224.5,75.3 229.4,72.4 234.5,69.6 234.5,69.6 229.9,73.1 225.1,76.3 220.4,79.5 215.5,82.7 210.7,85.8 205.9,88.9 201.0,91.9 196.1,94.9 191.1,97.8 186.0,100.5" fill="#4361f4" />
<polygon points="185.6,99.6 190.2,96.1 194.9,92.8 199.7,89.7 204.5,86.5 209.4,83.5 214.2,80.4 219.1,77.4 224.1,74.4 229.0,71.5 234.1,68.8 234.1,68.8 229.4,72.2 224.7,75.4 219.9,78.6 215.1,81.8 210.3,84.9 205.4,88.0 200.6,91.0 195.7,94.0 190.7,96.9 185.6,99.6" fill="#4361f4" />
<polygon points="185.2,98.7 189.8,95.2 194.5,92.0 199.3,88.8 204.1,85.7 209.0,82.6 213.9,79.6 218.7,76.6 223.7,73.6 228.6,70.7 233.7,67.9 233.7,67.9 229.0,71.4 224.3,74.6 219.5,77.8 214.7,80.9 209.9,84.0 205.0,87.1 200.2,90.1 195.3,93.1 190.3,96.0 185.2,98.7" fill="#4361f4" />
<polygon points="184.8,97.9 189.4,94.4 194.2,91.2 199.0,88.0 203.8,84.9 208.6,81.8 213.5,78.8 218.4,75.8 223.3,72.8 228.2,69.9 233.3,67.2 233.3,67.2 228.6,70.5 223.9,73.8 219.1,76.9 214.3,80.1 209.5,83.2 204.6,86.2 199.8,89.3 194.9,92.3 189.9,95.2 184.8,97.9" fill="#4361f4" />
<polygon points="184.5,97.0 189.1,93.6 193.8,90.4 198.6,87.2 203.4,84.1 208.2,81.1 213.1,78.0 218.0,75.0 222.9,72.1 227.8,69.1 232.9,66.4 232.9,66.4 228.2,69.8 223.5,73.0 218.7,76.1 213.9,79.3 209.1,82.4 204.2,85.4 199.4,88.5 194.5,91.4 189.6,94.4 184.5,97.0" fill="#4361f4" />
<polygon points="184.1,96.3 188.7,92.8 193.5,89.6 198.2,86.5 203.1,83.4 207.9,80.3 212.8,77.3 217.6,74.3 222.5,71.3 227.5,68.4 232.5,65.6 232.5,65.6 227.8,69.0 223.1,72.2 218.3,75.4 213.5,78.5 208.7,81.6 203.9,84.6 199.0,87.7 194.1,90.6 189.2,93.6 184.1,96.3" fill="#4361f4" />
<polygon points="183.8,95.5 188.4,92.1 193.1,88.9 197.9,85.7 202.7,82.6 207.5,79.6 212.4,76.6 217.3,73.6 222.2,70.6 227.1,67.7 232.1,64.9 232.1,64.9 227.5,68.3 222.7,71.5 217.9,74.6 213.1,77.7 208.3,80.8 203.5,83.9 198.6,86.9 193.8,89.9 188.8,92.8 183.8,95.5" fill="#4361f4" />
<polygon points="183.4,94.8 188.0,91.3 192.8,88.2 197.6,85.0 202.4,81.9 207.2,78.9 212.1,75.8 216.9,72.8 221.8,69.9 226.7,67.0 231.8,64.2 231.8,64.2 227.1,67.5 222.4,70.7 217.6,73.9 212.8,77.0 208.0,80.1 203.1,83.1 198.3,86.1 193.4,89.1 188.5,92.0 183.4,94.8" fill="#4361f4" />
<polygon points="183.1,94.0 187.7,90.6 192.5,87.5 197.3,84.3 202.1,81.2 206.9,78.2 211.8,75.2 216.6,72.2 221.5,69.2 226.4,66.3 231.4,63.5 231.4,63.5 226.8,66.8 222.0,70.0 217.2,73.1 212.4,76.3 207.6,79.3 202.8,82.4 198.0,85.4 193.1,88.4 188.2,91.3 183.1,94.0" fill="#4361f4" />
<polygon points="182.8,93.3 187.4,89.9 192.2,86.8 197.0,83.6 201.8,80.6 206.6,77.5 211.4,74.5 216.3,71.5 221.2,68.5 226.1,65.6 231.1,62.8 231.1,62.8 226.4,66.1 221.7,69.3 216.9,72.4 212.1,75.6 207.3,78.6 202.5,81.7 197.6,84.7 192.7,87.7 187.8,90.6 182.8,93.3" fill="#4361f4" />
<polygon points="182.5,92.6 187.1,89.3 191.9,86.1 196.7,83.0 201.5,79.9 206.3,76.8 211.1,73.8 216.0,70.8 220.9,67.9 225.8,64.9 230.8,62.1 230.8,62.1 226.1,65.5 221.4,68.6 216.6,71.8 211.8,74.9 207.0,77.9 202.2,81.0 197.3,84.0 192.4,87.0 187.5,89.9 182.5,92.6" fill="#4361f4" />
<polygon points="182.2,92.0 186.8,88.6 191.6,85.4 196.4,82.3 201.2,79.2 206.0,76.2 210.8,73.2 215.7,70.2 220.6,67.2 225.5,64.3 230.5,61.5 230.5,61.5 225.8,64.8 221.1,68.0 216.3,71.1 211.5,74.2 206.7,77.3 201.8,80.3 197.0,83.3 192.1,86.3 187.2,89.2 182.2,92.0" fill="#4361f4" />
<polygon points="181.9,91.3 186.5,88.0 191.3,84.8 196.1,81.7 200.9,78.6 205.7,75.6 210.5,72.5 215.4,69.6 220.3,66.6 225.2,63.7 230.2,60.9 230.2,60.9 225.5,64.2 220.8,67.3 216.0,70.5 211.2,73.5 206.4,76.6 201.5,79.7 196.7,82.7 191.8,85.7 186.9,88.6 181.9,91.3" fill="#4361f4" />
<polygon points="181.6,90.7 186.2,87.3 191.0,84.2 195.8,81.1 200.6,78.0 205.4,75.0 210.3,71.9 215.1,68.9 220.0,66.0 224.9,63.1 229.9,60.3 229.9,60.3 225.2,63.5 220.5,66.7 215.7,69.8 210.9,72.9 206.1,76.0 201.2,79.0 196.4,82.0 191.5,85.0 186.6,87.9 181.6,90.7" fill="#4361f4" />
<polygon points="181.3,90.1 186.0,86.7 190.7,83.6 195.5,80.5 200.3,77.4 205.1,74.4 210.0,71.3 214.8,68.4 219.7,65.4 224.6,62.5 229.6,59.7 229.6,59.7 224.9,62.9 220.2,66.1 215.4,69.2 210.6,72.3 205.8,75.4 201.0,78.4 196.1,81.4 191.2,84.4 186.3,87.3 181.3,90.1" fill="#4361f4" />
<polygon points="181.1,89.5 185.7,86.1 190.5,83.0 195.2,79.9 200.1,76.8 204.9,73.8 209.7,70.8 214.6,67.8 219.5,64.8 224.3,61.9 229.3,59.1 229.3,59.1 224.6,62.3 219.9,65.5 215.1,68.6 210.3,71.7 205.5,74.8 200.7,77.8 195.8,80.8 191.0,83.8 186.1,86.7 181.1,89.5" fill="#4361f4" />
<polygon points="180.8,88.9 185.4,85.5 190.2,82.4 195.0,79.3 199.8,76.2 204.6,73.2 209.5,70.2 214.3,67.2 219.2,64.2 224.1,61.3 229.0,58.5 229.0,58.5 224.4,61.8 219.6,64.9 214.8,68.0 210.0,71.1 205.2,74.2 200.4,77.2 195.6,80.2 190.7,83.2 185.8,86.1 180.8,88.9" fill="#4361f4" />
<polygon points="180.5,88.3 185.2,85.0 189.9,81.8 194.7,78.7 199.5,75.7 204.4,72.6 209.2,69.6 214.1,66.6 218.9,63.7 223.8,60.8 228.8,57.9 228.8,57.9 224.1,61.2 219.3,64.3 214.6,67.4 209.8,70.5 205.0,73.6 200.1,76.6 195.3,79.6 190.4,82.6 185.5,85.5 180.5,88.3" fill="#4361f4" />
<polygon points="180.3,87.7 184.9,84.4 189.7,81.3 194.5,78.2 199.3,75.1 204.1,72.1 208.9,69.1 213.8,66.1 218.7,63.1 223.6,60.2 228.5,57.4 228.5,57.4 223.8,60.6 219.1,63.8 214.3,66.9 209.5,70.0 204.7,73.0 199.9,76.0 195.0,79.0 190.2,82.0 185.3,84.9 180.3,87.7" fill="#4361f4" />
<polygon points="180.0,87.2 184.7,83.9 189.4,80.7 194.2,77.6 199.0,74.6 203.9,71.6 208.7,68.5 213.6,65.6 218.4,62.6 223.3,59.7 228.3,56.9 228.3,56.9 223.6,60.1 218.8,63.2 214.0,66.3 209.2,69.4 204.4,72.5 199.6,75.5 194.8,78.5 189.9,81.5 185.0,84.4 180.0,87.2" fill="#4361f4" />
<polygon points="179.8,86.6 184.4,83.3 189.2,80.2 194.0,77.1 198.8,74.1 203.6,71.0 208.5,68.0 213.3,65.0 218.2,62.1 223.1,59.1 228.0,56.3 228.0,56.3 223.3,59.6 218.6,62.7 213.8,65.8 209.0,68.9 204.2,71.9 199.4,74.9 194.5,77.9 189.7,80.9 184.8,83.8 179.8,86.6" fill="#4361f4" />
<polygon points="179.5,86.1 184.2,82.8 189.0,79.7 193.7,76.6 198.6,73.5 203.4,70.5 208.2,67.5 213.1,64.5 217.9,61.6 222.8,58.6 227.8,55.8 227.8,55.8 223.1,59.0 218.3,62.2 213.5,65.3 208.7,68.3 203.9,71.4 199.1,74.4 194.3,77.4 189.4,80.4 184.5,83.3 179.5,86.1" fill="#4361f4" />
<polygon points="179.3,85.6 183.9,82.3 188.7,79.2 193.5,76.1 198.3,73.1 203.1,70.0 208.0,67.0 212.8,64.0 217.7,61.1 222.6,58.1 227.5,55.3 227.5,55.3 222.8,58.5 218.1,61.7 213.3,64.7 208.5,67.8 203.7,70.9 198.8,73.9 194.0,76.9 189.1,79.9 184.2,82.8 179.3,85.6" fill="#4361f4" />
<polygon points="179.0,85.1 183.7,81.8 188.4,78.7 193.2,75.6 198.0,72.6 202.9,69.5 207.7,66.5 212.6,63.5 217.4,60.6 222.3,57.6 227.3,54.8 227.3,54.8 222.6,58.0 217.8,61.2 213.0,64.3 208.2,67.3 203.4,70.4 198.6,73.4 193.7,76.4 188.9,79.4 184.0,82.3 179.0,85.1" fill="#4361f4" />
<polygon points="178.7,84.6 183.4,81.3 188.2,78.2 193.0,75.1 197.8,72.1 202.6,69.1 207.5,66.0 212.3,63.1 217.2,60.1 222.1,57.2 227.1,54.3 227.1,54.3 222.3,57.6 217.6,60.7 212.8,63.8 208.0,66.8 203.1,69.9 198.3,72.9 193.5,75.9 188.6,78.9 183.7,81.8 178.7,84.6" fill="#4361f4" />
<polygon points="178.4,84.2 183.1,80.9 187.9,77.8 192.7,74.7 197.5,71.6 202.4,68.6 207.2,65.6 212.1,62.6 217.0,59.6 221.9,56.7 226.8,53.8 226.8,53.8 222.1,57.1 217.3,60.2 212.5,63.3 207.7,66.4 202.9,69.4 198.1,72.5 193.2,75.5 188.3,78.4 183.4,81.4 178.4,84.2" fill="#4361f4" />
<polygon points="178.2,83.7 182.9,80.4 187.7,77.3 192.5,74.2 197.3,71.1 202.1,68.1 207.0,65.1 211.9,62.1 216.7,59.1 221.6,56.2 226.6,53.4 226.6,53.4 221.9,56.6 217.1,59.7 212.3,62.8 207.5,65.9 202.7,69.0 197.8,72.0 193.0,75.0 188.1,78.0 183.2,80.9 178.2,83.7" fill="#4361f4" />
<polygon points="177.9,83.2 182.6,80.0 187.4,76.8 192.2,73.8 197.0,70.7 201.9,67.7 206.8,64.6 211.6,61.7 216.5,58.7 221.4,55.8 226.4,52.9 226.4,52.9 221.7,56.1 216.9,59.3 212.1,62.4 207.3,65.5 202.4,68.5 197.6,71.5 192.7,74.5 187.8,77.5 182.9,80.5 177.9,83.2" fill="#4361f4" />
<polygon points="177.7,82.8 182.4,79.5 187.2,76.4 192.0,73.3 196.8,70.2 201.7,67.2 206.5,64.2 211.4,61.2 216.3,58.2 221.2,55.3 226.2,52.5 226.2,52.5 221.4,55.7 216.7,58.8 211.8,61.9 207.0,65.0 202.2,68.1 197.3,71.1 192.5,74.1 187.6,77.1 182.7,80.0 177.7,82.8" fill="#4361f4" />
<polygon points="177.4,82.4 182.1,79.1 186.9,76.0 191.7,72.9 196.6,69.8 201.4,66.8 206.3,63.8 211.2,60.8 216.1,57.8 221.0,54.9 226.0,52.0 226.0,52.0 221.2,55.3 216.4,58.4 211.6,61.5 206.8,64.6 202.0,67.6 197.1,70.7 192.2,73.7 187.3,76.6 182.4,79.6 177.4,82.4" fill="#4361f4" />
<polygon points="177.2,81.9 181.9,78.7 186.7,75.5 191.5,72.4 196.3,69.4 201.2,66.3 206.1,63.3 211.0,60.3 215.9,57.4 220.8,54.4 225.8,51.6 225.8,51.6 221.0,54.8 216.2,58.0 211.4,61.1 206.6,64.1 201.7,67.2 196.9,70.2 192.0,73.2 187.1,76.2 182.2,79.2 177.2,81.9" fill="#4361f4" />
<polygon points="176.9,81.5 181.6,78.2 186.5,75.1 191.3,72.0 196.1,69.0 201.0,65.9 205.9,62.9 210.7,59.9 215.6,56.9 220.6,54.0 225.6,51.2 225.6,51.2 220.8,54.4 216.0,57.5 211.2,60.6 206.4,63.7 201.5,66.8 196.6,69.8 191.8,72.8 186.9,75.8 182.0,78.7 176.9,81.5" fill="#4361f4" />
<polygon points="176.7,81.1 181.4,77.8 186.2,74.7 191.1,71.6 195.9,68.5 200.8,65.5 205.6,62.5 210.5,59.5 215.4,56.5 220.4,53.6 225.4,50.7 225.4,50.7 220.6,54.0 215.8,57.1 211.0,60.2 206.1,63.3 201.3,66.3 196.4,69.4 191.5,72.4 186.6,75.4 181.7,78.3 176.7,81.1" fill="#4361f4" />
<polygon points="176.5,80.7 181.2,77.4 186.0,74.3 190.8,71.2 195.7,68.1 200.6,65.1 205.4,62.1 210.3,59.1 215.2,56.1 220.2,53.2 225.2,50.3 225.2,50.3 220.4,53.6 215.6,56.7 210.8,59.8 205.9,62.9 201.1,65.9 196.2,69.0 191.3,72.0 186.4,75.0 181.5,77.9 176.5,80.7" fill="#4361f4" />
<polygon points="176.2,80.3 181.0,77.0 185.8,73.9 190.6,70.8 195.5,67.7 200.3,64.7 205.2,61.7 210.1,58.7 215.0,55.7 220.0,52.8 225.0,49.9 225.0,49.9 220.2,53.2 215.4,56.3 210.6,59.4 205.7,62.5 200.9,65.5 196.0,68.6 191.1,71.6 186.2,74.6 181.3,77.5 176.2,80.3" fill="#4361f4" />
<polygon points="176.0,79.9 180.7,76.6 185.6,73.5 190.4,70.4 195.3,67.3 200.1,64.3 205.0,61.3 209.9,58.3 214.8,55.3 219.8,52.4 224.8,49.5 224.8,49.5 220.0,52.7 215.2,55.9 210.4,59.0 205.5,62.1 200.7,65.1 195.8,68.2 190.9,71.2 186.0,74.2 181.1,77.1 176.0,79.9" fill="#4361f4" />
<polygon points="175.8,79.5 180.5,76.2 185.3,73.1 190.2,70.0 195.1,66.9 199.9,63.9 204.8,60.9 209.7,57.9 214.6,54.9 219.6,52.0 224.6,49.1 224.6,49.1 219.8,52.4 215.0,55.5 210.2,58.6 205.3,61.7 200.5,64.7 195.6,67.8 190.7,70.8 185.8,73.8 180.8,76.7 175.8,79.5" fill="#4361f4" />
<polygon points="175.6,79.1 180.3,75.8 185.1,72.7 190.0,69.6 194.9,66.6 199.7,63.5 204.6,60.5 209.5,57.5 214.5,54.5 219.4,51.6 224.4,48.7 224.4,48.7 219.6,52.0 214.8,55.1 210.0,58.2 205.1,61.3 200.3,64.4 195.4,67.4 190.5,70.4 185.6,73.4 180.6,76.3 175.6,79.1" fill="#4361f4" />
<polygon points="175.4,78.8 180.1,75.5 184.9,72.3 189.8,69.2 194.7,66.2 199.5,63.1 204.4,60.1 209.3,57.1 214.3,54.1 219.2,51.2 224.2,48.3 224.2,48.3 219.5,51.6 214.6,54.7 209.8,57.8 204.9,60.9 200.1,64.0 195.2,67.0 190.3,70.0 185.4,73.0 180.4,76.0 175.4,78.8" fill="#4361f4" />
<polygon points="175.2,78.4 179.9,75.1 184.7,72.0 189.6,68.9 194.5,65.8 199.3,62.8 204.2,59.7 209.2,56.7 214.1,53.7 219.0,50.8 224.0,48.0 224.0,48.0 219.3,51.2 214.5,54.3 209.6,57.4 204.7,60.5 199.9,63.6 195.0,66.6 190.1,69.7 185.1,72.6 180.2,75.6 175.2,78.4" fill="#4361f4" />
<polygon points="175.0,78.0 179.7,74.7 184.5,71.6 189.4,68.5 194.3,65.4 199.1,62.4 204.1,59.4 209.0,56.4 213.9,53.4 218.9,50.4 223.9,47.6 223.9,47.6 219.1,50.8 214.3,54.0 209.4,57.1 204.6,60.2 199.7,63.2 194.8,66.3 189.9,69.3 184.9,72.3 180.0,75.2 175.0,78.0" fill="#4361f4" />
<polygon points="130.0,322.0 169.5,256.7 213.7,196.1 229.0,178.3 236.0,171.6 240.0,168.7 254.0,160.4 268.0,153.8 282.0,143.5 301.7,131.3 322.5,118.9 301.7,133.4 290.0,139.6 282.0,145.0 268.0,156.9 254.0,169.5 244.2,180.5 233.3,197.0 220.0,222.0 169.5,301.0 157.0,322.0" fill="#4361f4" />
<polygon points="130.0,322.0 169.5,256.7 213.7,196.1 229.0,178.3 236.0,171.6 240.0,168.7 254.0,160.4 262.0,158.2 254.0,164.5 243.0,174.5 233.3,185.6 222.0,200.0 220.0,204.0 181.9,260.0 169.5,278.0 143.0,322.0" fill="#0721be" />
<polygon points="145.3,26.2 145.3,26.3 145.3,26.3 145.4,26.4 145.4,26.4 145.4,26.5 145.4,26.5 145.5,26.5 145.5,26.6 145.5,26.6 145.6,26.7 145.6,26.7 145.6,26.8 145.6,26.8 145.7,26.9 145.7,26.9 145.7,27.0 145.7,27.0 145.8,27.1 145.8,27.1 145.8,27.2 145.9,27.2 145.9,27.2 145.9,27.3 145.9,27.3 146.0,27.4 146.0,27.4 146.0,27.5 146.0,27.5 146.1,27.6 146.1,27.6 146.1,27.7 146.2,27.7 146.2,27.8 146.2,27.8 146.2,27.9 146.3,27.9 146.3,28.0 146.3,28.0 146.3,28.1 146.4,28.1 146.4,28.2 146.4,28.2 146.5,28.3 146.5,28.3 146.5,28.4 146.5,28.4 146.6,28.5 146.6,28.5 146.6,28.6 146.7,28.6 146.7,28.7 146.7,28.7 146.7,28.8 146.8,28.8 146.8,28.9 146.8,28.9 146.9,29.0 146.9,29.0 146.9,29.1 147.0,29.1 147.0,29.2 147.0,29.2 147.0,29.3 147.1,29.3 147.1,29.4 147.1,29.4 147.2,29.5 147.2,29.5 147.2,29.6 147.2,29.6 147.3,29.7 147.3,29.7 147.3,29.8 147.4,29.8 147.4,29.9 147.4,29.9 147.5,30.0 147.5,30.0 147.5,30.1 147.5,30.1 147.6,30.2 147.6,30.3 147.6,30.3 147.7,30.4 147.7,30.4 147.7,30.5 147.8,30.5 147.8,30.6 147.8,30.6 147.9,30.7 147.9,30.7 147.9,30.8 148.0,30.8 148.0,30.9 148.0,31.0 148.0,31.0 148.1,31.1 148.1,31.1 148.1,31.2 148.2,31.2 148.2,31.3 148.2,31.3 148.3,31.4 148.3,31.4 148.3,31.5 148.4,31.6 148.4,31.6 148.4,31.7 148.5,31.7 148.5,31.8 148.5,31.8 148.6,31.9 148.6,32.0 148.6,32.0 148.7,32.1 148.7,32.1 148.7,32.2 148.8,32.2 148.8,32.3 148.8,32.4 148.9,32.4 148.9,32.5 148.9,32.5 149.0,32.6 149.0,32.7 149.0,32.7 149.1,32.8 149.1,32.8 149.1,32.9 149.2,32.9 149.2,33.0 149.2,33.1 149.3,33.1 149.3,33.2 149.3,33.2 149.4,33.3 149.4,33.4 149.4,33.4 149.5,33.5 149.5,33.5 149.5,33.6 149.6,33.7 149.6,33.7 149.7,33.8 149.7,33.9 149.7,33.9 149.8,34.0 149.8,34.0 149.8,34.1 149.9,34.2 149.9,34.2 149.9,34.3 150.0,34.3 150.0,34.4 150.0,34.5 150.1,34.5 150.1,34.6 150.2,34.7 150.2,34.7 150.2,34.8 150.3,34.9 150.3,34.9 150.3,35.0 150.4,35.0 150.4,35.1 150.5,35.2 150.5,35.2 150.5,35.3 150.6,35.4 150.6,35.4 150.6,35.5 150.7,35.6 150.7,35.6 150.8,35.7 150.8,35.8 150.8,35.8 150.9,35.9 150.9,36.0 150.9,36.0 151.0,36.1 151.0,36.2 151.1,36.2 151.1,36.3 151.1,36.4 151.2,36.4 151.2,36.5 151.3,36.6 151.3,36.6 151.3,36.7 151.4,36.8 151.4,36.9 151.5,36.9 151.5,37.0 151.5,37.1 151.6,37.1 151.6,37.2 151.7,37.3 151.7,37.3 151.7,37.4 151.8,37.5 151.8,37.6 151.9,37.6 151.9,37.7 151.9,37.8 152.0,37.8 152.0,37.9 152.1,38.0 152.1,38.1 152.2,38.1 152.2,38.2 152.2,38.3 152.3,38.4 152.3,38.4 152.4,38.5 152.4,38.6 152.5,38.7 152.5,38.7 152.5,38.8 152.6,38.9 152.6,39.0 152.7,39.0 152.7,39.1 152.8,39.2 152.8,39.3 152.8,39.3 152.9,39.4 152.9,39.5 153.0,39.6 153.0,39.6 153.1,39.7 153.1,39.8 153.2,39.9 153.2,40.0 153.3,40.0 153.3,40.1 153.3,40.2 153.4,40.3 153.4,40.4 153.5,40.4 153.5,40.5 153.6,40.6 153.6,40.7 153.7,40.8 153.7,40.8 153.8,40.9 153.8,41.0 153.9,41.1 153.9,41.2 154.0,41.2 154.0,41.3 154.0,41.4 154.1,41.5 154.1,41.6 154.2,41.7 154.2,41.7 154.3,41.8 154.3,41.9 154.4,42.0 154.4,42.1 154.5,42.2 154.5,42.3 154.6,42.3 154.6,42.4 154.7,42.5 154.7,42.6 154.8,42.7 154.8,42.8 154.9,42.9 154.9,43.0 155.0,43.0 155.0,43.1 155.1,43.2 155.1,43.3 155.2,43.4 155.2,43.5 155.3,43.6 155.4,43.7 155.4,43.8 155.5,43.9 155.5,44.0 155.6,44.0 155.6,44.1 155.7,44.2 155.7,44.3 155.8,44.4 155.8,44.5 155.9,44.6 155.9,44.7 156.0,44.8 156.1,44.9 156.1,45.0 156.2,45.1 156.2,45.2 156.3,45.3 156.3,45.4 156.4,45.5 156.4,45.6 156.5,45.7 156.6,45.8 156.6,45.9 156.7,46.0 156.7,46.1 156.8,46.2 156.8,46.3 156.9,46.4 157.0,46.5 157.0,46.6 157.1,46.7 157.1,46.8 157.2,46.9 157.3,47.0 157.3,47.1 157.4,47.2 157.4,47.3 157.5,47.4 157.6,47.5 157.6,47.6 157.7,47.7 157.8,47.8 157.8,47.9 157.9,48.1 157.9,48.2 158.0,48.3 158.1,48.4 158.1,48.5 158.2,48.6 158.3,48.7 158.3,48.8 158.4,48.9 158.5,49.1 158.5,49.2 158.6,49.3 158.7,49.4 158.7,49.5 158.8,49.6 158.9,49.7 158.9,49.9 159.0,50.0 159.1,50.1 159.1,50.2 159.2,50.3 159.3,50.4 159.3,50.6 159.4,50.7 159.5,50.8 159.6,50.9 159.6,51.0 159.7,51.2 159.8,51.3 159.8,51.4 159.9,51.5 160.0,51.7 160.1,51.8 160.1,51.9 160.2,52.0 160.3,52.2 160.4,52.3 160.4,52.4 160.5,52.6 160.6,52.7 160.7,52.8 160.7,52.9 160.8,53.1 160.9,53.2 161.0,53.3 161.1,53.5 161.1,53.6 161.2,53.7 161.3,53.9 161.4,54.0 161.5,54.2 161.6,54.3 161.6,54.4 161.7,54.6 161.8,54.7 161.9,54.9 162.0,55.0 162.1,55.1 162.1,55.3 162.2,55.4 162.3,55.6 162.4,55.7 162.5,55.9 162.6,56.0 162.7,56.2 162.8,56.3 162.8,56.5 162.9,56.6 163.0,56.8 163.1,56.9 163.2,57.1 163.3,57.2 163.4,57.4 163.5,57.6 163.6,57.7 163.7,57.9 163.8,58.0 163.9,58.2 164.0,58.4 164.1,58.5 164.2,58.7 164.3,58.9 164.4,59.0 164.5,59.2 164.6,59.4 164.7,59.5 164.8,59.7 164.9,59.9 165.0,60.1 165.1,60.2 165.2,60.4 165.3,60.6 165.4,60.8 165.5,60.9 165.6,61.1 165.7,61.3 165.8,61.5 165.9,61.7 166.1,61.9 166.2,62.1 166.3,62.3 166.4,62.4 166.5,62.6 166.6,62.8 166.7,63.0 166.9,63.2 167.0,63.4 167.1,63.6 167.2,63.8 167.3,64.0 167.5,64.2 167.6,64.5 167.7,64.7 167.8,64.9 168.0,65.1 168.1,65.3 168.2,65.5 168.4,65.7 168.5,66.0 168.6,66.2 168.8,66.4 168.9,66.6 169.0,66.9 169.2,67.1 169.3,67.4 169.4,67.6 169.5,67.8 169.7,68.1 169.8,68.3 169.9,68.6 170.1,68.9 170.2,69.1 170.3,69.4 170.5,69.6 170.6,69.9 170.8,70.2 170.9,70.5 171.0,70.7 171.2,71.0 171.3,71.3 171.5,71.6 171.6,71.9 171.8,72.2 171.9,72.4 172.1,72.7 172.3,73.0 172.4,73.4 172.6,73.7 172.7,74.0 172.9,74.3 173.1,74.6 173.2,74.9 173.4,75.3 173.6,75.6 173.8,75.9 174.0,76.3 174.2,76.6 174.3,77.0 174.5,77.3 174.7,77.7 175.0,78.0 175.2,78.4 175.4,78.8 175.6,79.1 175.8,79.5 176.0,79.9 176.2,80.3 176.5,80.7 176.7,81.1 176.9,81.5 177.2,81.9 177.4,82.4 177.7,82.8 177.9,83.2 178.2,83.7 178.4,84.2 178.7,84.6 179.0,85.1 179.3,85.6 179.5,86.1 179.8,86.6 180.0,87.2 180.3,87.7 180.5,88.3 180.8,88.9 181.1,89.5 181.3,90.1 181.6,90.7 181.9,91.3 182.2,92.0 182.5,92.6 182.8,93.3 183.1,94.0 183.4,94.8 183.8,95.5 184.1,96.3 184.5,97.0 184.8,97.9 185.2,98.7 185.6,99.6 186.0,100.5 186.4,101.4 186.8,102.4 187.2,103.4 187.7,104.4 188.2,105.5 188.7,106.6 189.2,107.8 189.7,109.1 190.3,110.4 190.8,111.7 191.3,113.3 191.8,114.9 192.3,116.6 192.9,118.5 193.4,120.4 194.1,122.5 218.4,106.8 217.3,105.0 216.3,103.3 215.3,101.8 214.4,100.3 213.5,99.0 212.7,97.7 212.1,96.4 211.5,95.1 210.9,93.9 210.4,92.8 209.9,91.7 209.4,90.6 208.9,89.6 208.4,88.6 208.0,87.7 207.6,86.7 207.2,85.9 206.8,85.0 206.4,84.2 206.0,83.4 205.6,82.6 205.3,81.9 204.9,81.2 204.6,80.4 204.3,79.7 204.0,79.1 203.7,78.4 203.4,77.8 203.1,77.1 202.8,76.5 202.5,75.9 202.3,75.3 202.0,74.8 201.7,74.2 201.5,73.7 201.2,73.1 201.0,72.6 200.7,72.1 200.5,71.6 200.2,71.1 200.0,70.7 199.7,70.2 199.5,69.8 199.3,69.3 199.0,68.9 198.8,68.4 198.6,68.0 198.4,67.6 198.1,67.2 197.9,66.8 197.7,66.4 197.5,66.0 197.3,65.6 197.1,65.2 196.9,64.8 196.7,64.5 196.5,64.1 196.3,63.8 196.2,63.4 196.0,63.1 195.8,62.7 195.6,62.4 195.5,62.0 195.3,61.7 195.1,61.4 195.0,61.0 194.8,60.7 194.6,60.4 194.5,60.1 194.3,59.8 194.2,59.5 194.0,59.2 193.9,58.9 193.7,58.6 193.6,58.3 193.4,58.0 193.3,57.7 193.2,57.4 193.0,57.1 192.9,56.9 192.7,56.6 192.6,56.3 192.5,56.1 192.3,55.8 192.2,55.5 192.1,55.3 192.0,55.0 191.8,54.8 191.7,54.5 191.6,54.3 191.5,54.0 191.3,53.8 191.2,53.5 191.1,53.3 191.0,53.1 190.8,52.8 190.7,52.6 190.6,52.4 190.5,52.1 190.4,51.9 190.2,51.7 190.1,51.5 190.0,51.3 189.9,51.0 189.8,50.8 189.6,50.6 189.5,50.4 189.4,50.2 189.3,50.0 189.2,49.8 189.1,49.6 189.0,49.4 188.9,49.2 188.8,49.0 188.6,48.8 188.5,48.6 188.4,48.4 188.3,48.2 188.2,48.0 188.1,47.9 188.0,47.7 187.9,47.5 187.8,47.3 187.7,47.1 187.6,46.9 187.5,46.8 187.4,46.6 187.3,46.4 187.2,46.2 187.1,46.0 187.0,45.9 186.9,45.7 186.8,45.5 186.7,45.4 186.6,45.2 186.6,45.0 186.5,44.9 186.4,44.7 186.3,44.5 186.2,44.4 186.1,44.2 186.0,44.0 185.9,43.9 185.8,43.7 185.7,43.6 185.7,43.4 185.6,43.2 185.5,43.1 185.4,42.9 185.3,42.8 185.2,42.6 185.2,42.5 185.1,42.3 185.0,42.2 184.9,42.0 184.8,41.9 184.7,41.7 184.7,41.6 184.6,41.4 184.5,41.3 184.4,41.2 184.3,41.0 184.3,40.9 184.2,40.7 184.1,40.6 184.0,40.4 184.0,40.3 183.9,40.2 183.8,40.0 183.7,39.9 183.7,39.8 183.6,39.6 183.5,39.5 183.4,39.4 183.4,39.2 183.3,39.1 183.2,39.0 183.1,38.8 183.1,38.7 183.0,38.6 182.9,38.4 182.9,38.3 182.8,38.2 182.7,38.1 182.6,37.9 182.6,37.8 182.5,37.7 182.4,37.6 182.4,37.4 182.3,37.3 182.2,37.2 182.2,37.1 182.1,36.9 182.0,36.8 182.0,36.7 181.9,36.6 181.8,36.5 181.8,36.3 181.7,36.2 181.6,36.1 181.6,36.0 181.5,35.9 181.5,35.8 181.4,35.6 181.3,35.5 181.3,35.4 181.2,35.3 181.1,35.2 181.1,35.1 181.0,35.0 181.0,34.8 180.9,34.7 180.8,34.6 180.8,34.5 180.7,34.4 180.7,34.3 180.6,34.2 180.5,34.1 180.5,34.0 180.4,33.9 180.4,33.8 180.3,33.6 180.2,33.5 180.2,33.4 180.1,33.3 180.1,33.2 180.0,33.1 180.0,33.0 179.9,32.9 179.9,32.8 179.8,32.7 179.7,32.6 179.7,32.5 179.6,32.4 179.6,32.3 179.5,32.2 179.5,32.1 179.4,32.0 179.4,31.9 179.3,31.8 179.2,31.7 179.2,31.6 179.1,31.5 179.1,31.4 179.0,31.3 179.0,31.2 178.9,31.1 178.9,31.0 178.8,30.9 178.8,30.8 178.7,30.7 178.7,30.6 178.6,30.5 178.6,30.4 178.5,30.4 178.5,30.3 178.4,30.2 178.4,30.1 178.3,30.0 178.3,29.9 178.2,29.8 178.2,29.7 178.1,29.6 178.1,29.5 178.0,29.4 178.0,29.3 177.9,29.3 177.9,29.2 177.8,29.1 177.8,29.0 177.7,28.9 177.7,28.8 177.6,28.7 177.6,28.6 177.5,28.6 177.5,28.5 177.4,28.4 177.4,28.3 177.4,28.2 177.3,28.1 177.3,28.0 177.2,28.0 177.2,27.9 177.1,27.8 177.1,27.7 177.0,27.6 177.0,27.5 176.9,27.4 176.9,27.4 176.9,27.3 176.8,27.2 176.8,27.1 176.7,27.0 176.7,27.0 176.6,26.9 176.6,26.8 176.5,26.7 176.5,26.6 176.5,26.5 176.4,26.5 176.4,26.4 176.3,26.3 176.3,26.2 176.2,26.2 176.2,26.1 176.2,26.0 176.1,25.9 176.1,25.8 176.0,25.8 176.0,25.7 175.9,25.6 175.9,25.5 175.9,25.4 175.8,25.4 175.8,25.3 175.7,25.2 175.7,25.1 175.7,25.1 175.6,25.0 175.6,24.9 175.5,24.8 175.5,24.8 175.4,24.7 175.4,24.6 175.4,24.5 175.3,24.5 175.3,24.4 175.2,24.3 175.2,24.2 175.2,24.2 175.1,24.1 175.1,24.0 175.1,24.0 175.0,23.9 175.0,23.8 174.9,23.7 174.9,23.7 174.9,23.6 174.8,23.5 174.8,23.5 174.7,23.4 174.7,23.3 174.7,23.2 174.6,23.2 174.6,23.1 174.6,23.0 174.5,23.0 174.5,22.9 174.4,22.8 174.4,22.8 174.4,22.7 174.3,22.6 174.3,22.6 174.3,22.5 174.2,22.4 174.2,22.3 174.1,22.3 174.1,22.2 174.1,22.1 174.0,22.1 174.0,22.0 174.0,21.9 173.9,21.9 173.9,21.8 173.9,21.7 173.8,21.7 173.8,21.6 173.7,21.5 173.7,21.5 173.7,21.4 173.6,21.3 173.6,21.3 173.6,21.2 173.5,21.2 173.5,21.1 173.5,21.0 173.4,21.0 173.4,20.9 173.4,20.8 173.3,20.8 173.3,20.7 173.3,20.6 173.2,20.6 173.2,20.5 173.2,20.5 173.1,20.4 173.1,20.3 173.0,20.3 173.0,20.2 173.0,20.1 172.9,20.1 172.9,20.0 172.9,20.0 172.8,19.9 172.8,19.8 172.8,19.8 172.7,19.7 172.7,19.6 172.7,19.6 172.6,19.5 172.6,19.5 172.6,19.4 172.5,19.3 172.5,19.3 172.5,19.2 172.5,19.2 172.4,19.1 172.4,19.0 172.4,19.0 172.3,18.9 172.3,18.9 172.3,18.8 172.2,18.7 172.2,18.7 172.2,18.6 172.1,18.6 172.1,18.5 172.1,18.5 172.0,18.4 172.0,18.3 172.0,18.3 171.9,18.2 171.9,18.2 171.9,18.1 171.8,18.1 171.8,18.0 171.8,17.9 171.8,17.9 171.7,17.8 171.7,17.8 171.7,17.7 171.6,17.7 171.6,17.6 171.6,17.5 171.5,17.5 171.5,17.4 171.5,17.4 171.5,17.3 171.4,17.3 171.4,17.2 171.4,17.2 171.3,17.1 171.3,17.0 171.3,17.0 171.2,16.9 171.2,16.9 171.2,16.8 171.2,16.8 171.1,16.7 171.1,16.7 171.1,16.6 171.0,16.6 171.0,16.5 171.0,16.4 170.9,16.4 170.9,16.3 170.9,16.3 170.9,16.2 170.8,16.2 170.8,16.1 170.8,16.1 170.7,16.0 170.7,16.0 170.7,15.9 170.7,15.9 170.6,15.8 170.6,15.8 170.6,15.7 170.5,15.7 170.5,15.6 170.5,15.6 170.5,15.5 170.4,15.5 170.4,15.4 170.4,15.3 170.4,15.3 170.3,15.2 170.3,15.2 170.3,15.1 170.2,15.1 170.2,15.0 170.2,15.0 170.2,14.9 170.1,14.9 170.1,14.8 170.1,14.8 170.1,14.7 170.0,14.7 170.0,14.6 170.0,14.6 169.9,14.5 169.9,14.5 169.9,14.4 169.9,14.4 169.8,14.3 169.8,14.3 169.8,14.2 169.8,14.2 169.7,14.1 169.7,14.1 169.7,14.0 169.7,14.0 169.6,14.0 169.6,13.9 169.6,13.9 169.5,13.8 169.5,13.8 169.5,13.7 169.5,13.7 169.4,13.6 169.4,13.6 169.4,13.5 169.4,13.5 169.3,13.4 169.3,13.4 169.3,13.3 169.3,13.3 169.2,13.2 169.2,13.2 169.2,13.1 169.2,13.1 169.1,13.0 169.1,13.0 169.1,13.0 169.1,12.9 169.0,12.9 169.0,12.8 169.0,12.8 169.0,12.7 168.9,12.7 168.9,12.6 168.9,12.6 168.9,12.5 168.8,12.5 168.8,12.4 168.8,12.4 168.8,12.4" fill="#0721be" />
<polygon points="172.6,198.0 174.4,196.8 176.2,195.7 178.0,194.7 179.9,193.6 181.7,192.6 183.6,191.5 185.4,190.5 187.3,189.5 189.1,188.4 191.0,187.4 192.8,186.4 194.7,185.4 196.6,184.4 198.4,183.4 200.3,182.4 202.2,181.4 204.0,180.4 205.9,179.4 207.8,178.4 209.6,177.4 211.5,176.4 213.4,175.4 215.3,174.5 217.2,173.5 219.0,172.5 220.9,171.5 222.8,170.6 224.7,169.6 226.6,168.7 228.5,167.8 230.4,166.8 232.3,165.9 234.2,165.0 236.2,164.1 238.1,163.2 240.0,162.4 242.0,161.5 243.9,160.6 245.9,159.8 247.8,158.9 249.7,158.1 251.7,157.2 253.6,156.4 255.6,155.5 257.5,154.6 259.4,153.7 261.4,152.9 263.3,151.9 263.3,151.9 261.4,153.0 259.6,154.0 257.8,155.1 255.9,156.2 254.1,157.3 252.3,158.3 250.5,159.4 248.6,160.5 246.8,161.6 245.0,162.7 243.2,163.7 241.3,164.8 239.5,165.9 237.7,166.9 235.8,168.0 234.0,169.0 232.1,170.0 230.3,171.1 228.4,172.1 226.5,173.1 224.6,174.0 222.8,175.0 220.9,176.0 219.0,176.9 217.1,177.9 215.2,178.8 213.3,179.8 211.4,180.7 209.5,181.6 207.6,182.5 205.7,183.5 203.7,184.4 201.8,185.3 199.9,186.2 198.0,187.1 196.1,188.0 194.1,188.9 192.2,189.7 190.3,190.6 188.3,191.5 186.4,192.3 184.4,193.2 182.5,194.0 180.5,194.9 178.6,195.7 176.6,196.5 174.6,197.3 172.6,198.0" fill="#0721be" />
<polygon points="181.4,177.8 182.7,176.7 184.1,175.7 185.5,174.7 186.9,173.7 188.3,172.7 189.7,171.8 191.2,170.8 192.6,169.9 194.0,169.0 195.4,168.0 196.9,167.1 198.3,166.2 199.8,165.3 201.2,164.4 202.6,163.5 204.1,162.6 205.6,161.7 207.0,160.8 208.5,159.9 209.9,159.1 211.4,158.2 212.9,157.3 214.3,156.5 215.8,155.6 217.3,154.8 218.8,153.9 220.3,153.1 221.7,152.3 223.2,151.5 224.7,150.7 226.3,149.9 227.8,149.1 229.3,148.4 230.8,147.6 232.4,146.9 233.9,146.2 235.5,145.5 237.0,144.8 238.6,144.1 240.1,143.4 241.7,142.7 243.3,142.0 244.9,141.4 246.4,140.7 248.0,140.0 249.6,139.4 251.2,138.7 252.7,138.0 252.7,138.0 251.2,138.8 249.7,139.6 248.2,140.4 246.7,141.3 245.3,142.1 243.8,142.9 242.3,143.8 240.8,144.7 239.4,145.5 237.9,146.4 236.4,147.2 235.0,148.1 233.5,149.0 232.0,149.9 230.6,150.7 229.1,151.6 227.7,152.5 226.2,153.3 224.7,154.2 223.2,155.0 221.8,155.9 220.3,156.7 218.8,157.5 217.3,158.3 215.8,159.2 214.3,160.0 212.8,160.8 211.4,161.7 209.9,162.5 208.4,163.3 206.9,164.1 205.4,165.0 203.9,165.8 202.4,166.6 200.9,167.4 199.4,168.2 197.9,169.0 196.4,169.9 195.0,170.7 193.5,171.5 192.0,172.3 190.5,173.1 189.0,173.9 187.5,174.7 186.0,175.5 184.4,176.3 182.9,177.0 181.4,177.8" fill="#0721be" />
<polygon points="186.7,166.0 187.8,165.1 188.9,164.2 190.1,163.3 191.2,162.5 192.4,161.7 193.5,160.8 194.7,160.0 195.9,159.2 197.0,158.4 198.2,157.6 199.4,156.9 200.6,156.1 201.8,155.3 202.9,154.5 204.1,153.8 205.3,153.0 206.5,152.2 207.7,151.5 208.9,150.7 210.1,150.0 211.3,149.3 212.5,148.5 213.7,147.8 215.0,147.1 216.2,146.4 217.4,145.7 218.6,145.0 219.8,144.3 221.1,143.6 222.3,142.9 223.6,142.2 224.8,141.6 226.1,140.9 227.3,140.3 228.6,139.7 229.9,139.1 231.2,138.5 232.5,137.9 233.7,137.3 235.0,136.7 236.3,136.1 237.6,135.6 238.9,135.0 240.2,134.4 241.5,133.9 242.8,133.3 244.1,132.7 245.4,132.1 245.4,132.1 244.2,132.8 243.0,133.5 241.7,134.2 240.5,134.9 239.3,135.6 238.1,136.4 236.9,137.1 235.7,137.8 234.4,138.6 233.2,139.3 232.0,140.0 230.8,140.8 229.6,141.5 228.4,142.3 227.2,143.0 226.0,143.8 224.8,144.5 223.6,145.2 222.4,145.9 221.2,146.7 220.0,147.4 218.7,148.1 217.5,148.8 216.3,149.5 215.1,150.2 213.8,150.9 212.6,151.6 211.4,152.3 210.2,153.0 208.9,153.7 207.7,154.4 206.5,155.1 205.3,155.8 204.0,156.5 202.8,157.2 201.6,157.9 200.3,158.6 199.1,159.3 197.9,159.9 196.6,160.6 195.4,161.3 194.2,162.0 192.9,162.7 191.7,163.4 190.5,164.0 189.2,164.7 188.0,165.4 186.7,166.0" fill="#0721be" />
<polygon points="189.7,157.0 190.6,156.2 191.5,155.5 192.4,154.8 193.3,154.0 194.2,153.3 195.2,152.6 196.1,151.9 197.0,151.3 198.0,150.6 198.9,149.9 199.8,149.2 200.8,148.5 201.7,147.9 202.6,147.2 203.6,146.5 204.5,145.9 205.5,145.2 206.4,144.6 207.4,143.9 208.4,143.3 209.3,142.6 210.3,142.0 211.2,141.4 212.2,140.7 213.2,140.1 214.2,139.5 215.2,139.0 216.2,138.4 217.2,137.8 218.2,137.3 219.2,136.8 220.2,136.2 221.3,135.7 222.3,135.2 223.3,134.7 224.4,134.3 225.4,133.8 226.5,133.3 227.6,132.9 228.6,132.4 229.7,132.0 230.8,131.5 231.9,131.1 232.9,130.7 234.0,130.2 235.1,129.8 236.1,129.3 237.2,128.9 237.2,128.9 236.2,129.4 235.2,130.0 234.2,130.7 233.3,131.3 232.3,131.9 231.4,132.6 230.4,133.2 229.4,133.9 228.5,134.5 227.5,135.2 226.6,135.8 225.6,136.5 224.7,137.1 223.7,137.8 222.8,138.4 221.8,139.0 220.8,139.7 219.9,140.3 218.9,140.9 217.9,141.5 216.9,142.1 215.9,142.7 214.9,143.3 213.9,143.8 213.0,144.4 212.0,145.0 211.0,145.6 210.0,146.1 209.0,146.7 208.0,147.3 207.0,147.9 206.0,148.4 205.0,149.0 203.9,149.5 202.9,150.0 201.9,150.6 200.9,151.1 199.9,151.7 198.9,152.2 197.9,152.7 196.8,153.3 195.8,153.8 194.8,154.3 193.8,154.9 192.8,155.4 191.7,155.9 190.7,156.5 189.7,157.0" fill="#0721be" />
<polygon points="190.8,150.0 191.5,149.2 192.2,148.6 192.9,148.0 193.7,147.4 194.4,146.8 195.2,146.2 196.0,145.6 196.8,145.0 197.5,144.5 198.3,143.9 199.1,143.3 199.9,142.8 200.7,142.2 201.4,141.7 202.2,141.1 203.0,140.6 203.8,140.0 204.6,139.5 205.4,139.0 206.2,138.4 207.0,137.9 207.8,137.4 208.6,136.9 209.4,136.4 210.2,135.9 211.1,135.4 211.9,134.9 212.7,134.5 213.5,134.0 214.4,133.5 215.2,133.1 216.1,132.7 216.9,132.3 217.8,131.8 218.7,131.4 219.5,131.0 220.4,130.7 221.3,130.3 222.2,129.9 223.1,129.5 223.9,129.1 224.8,128.8 225.7,128.4 226.6,128.0 227.5,127.6 228.4,127.3 229.2,126.9 230.1,126.4 230.1,126.4 229.3,127.0 228.5,127.5 227.7,128.1 226.9,128.6 226.2,129.2 225.4,129.8 224.6,130.3 223.8,130.9 223.1,131.5 222.3,132.0 221.5,132.6 220.7,133.2 220.0,133.7 219.2,134.3 218.4,134.8 217.6,135.4 216.8,135.9 216.0,136.4 215.2,136.9 214.4,137.4 213.6,137.9 212.7,138.4 211.9,138.9 211.1,139.4 210.3,139.9 209.4,140.3 208.6,140.8 207.8,141.2 206.9,141.7 206.1,142.1 205.2,142.6 204.4,143.0 203.5,143.5 202.7,143.9 201.9,144.4 201.0,144.8 200.2,145.2 199.3,145.7 198.5,146.1 197.6,146.6 196.8,147.0 195.9,147.4 195.1,147.9 194.2,148.3 193.4,148.7 192.5,149.2 191.7,149.6 190.8,150.0" fill="#0721be" />
<polygon points="191.6,143.5 192.2,142.8 192.8,142.2 193.4,141.7 194.1,141.1 194.7,140.6 195.4,140.1 196.1,139.6 196.7,139.1 197.4,138.6 198.1,138.1 198.7,137.6 199.4,137.1 200.1,136.6 200.8,136.1 201.4,135.7 202.1,135.2 202.8,134.7 203.5,134.2 204.2,133.8 204.9,133.3 205.6,132.8 206.3,132.4 206.9,131.9 207.6,131.5 208.4,131.1 209.1,130.6 209.8,130.2 210.5,129.8 211.2,129.4 212.0,129.0 212.7,128.6 213.4,128.3 214.2,127.9 214.9,127.6 215.7,127.2 216.5,126.9 217.2,126.6 218.0,126.3 218.8,126.0 219.6,125.6 220.3,125.3 221.1,125.0 221.9,124.7 222.7,124.4 223.4,124.1 224.2,123.8 225.0,123.4 225.7,123.1 225.7,123.1 225.0,123.5 224.3,124.0 223.6,124.5 223.0,125.0 222.3,125.5 221.6,126.0 221.0,126.5 220.3,127.0 219.6,127.5 219.0,128.0 218.3,128.5 217.6,129.0 217.0,129.5 216.3,130.0 215.6,130.5 214.9,131.0 214.2,131.4 213.5,131.9 212.8,132.3 212.1,132.8 211.4,133.2 210.7,133.6 210.0,134.0 209.3,134.4 208.6,134.9 207.8,135.2 207.1,135.6 206.4,136.0 205.6,136.4 204.9,136.8 204.2,137.2 203.4,137.5 202.7,137.9 202.0,138.3 201.2,138.7 200.5,139.1 199.8,139.4 199.0,139.8 198.3,140.2 197.5,140.6 196.8,140.9 196.1,141.3 195.3,141.7 194.6,142.1 193.8,142.4 193.1,142.8 192.4,143.2 191.6,143.5" fill="#0721be" />
<polygon points="192.0,138.0 193.3,136.8 194.8,135.7 196.2,134.6 197.6,133.6 199.1,132.6 200.6,131.6 202.1,130.7 203.6,129.7 205.1,128.8 206.6,127.9 208.2,127.1 209.7,126.2 211.3,125.5 213.0,124.7 214.6,124.1 216.3,123.4 217.9,122.8 219.6,122.2 221.3,121.5 222.9,120.8 222.9,120.8 221.5,121.8 220.0,122.9 218.6,124.0 217.2,125.1 215.8,126.2 214.3,127.2 212.9,128.2 211.4,129.1 209.8,130.0 208.3,130.9 206.7,131.7 205.1,132.5 203.6,133.3 202.0,134.1 200.3,134.8 198.7,135.5 197.1,136.2 195.4,136.9 193.8,137.5 192.0,138.0" fill="#0721be" />
<polygon points="192.3,133.8 193.4,132.5 194.6,131.5 195.9,130.5 197.2,129.6 198.6,128.7 199.9,127.8 201.2,126.9 202.6,126.0 203.9,125.2 205.3,124.3 206.6,123.5 208.0,122.6 209.3,121.8 210.8,121.2 212.3,120.6 213.9,120.1 215.4,119.6 217.0,119.1 218.5,118.6 220.0,118.0 220.0,118.0 218.8,119.0 217.5,120.0 216.3,121.1 215.1,122.2 213.9,123.3 212.6,124.3 211.3,125.3 209.9,126.0 208.5,126.8 207.1,127.5 205.6,128.2 204.2,128.9 202.8,129.6 201.3,130.3 199.9,131.0 198.4,131.7 197.0,132.3 195.5,133.0 194.0,133.5 192.3,133.8" fill="#0721be" />
<polygon points="192.5,130.0 193.5,128.8 194.7,127.7 195.9,126.8 197.2,125.9 198.4,125.0 199.7,124.1 201.0,123.3 202.2,122.4 203.5,121.6 204.8,120.8 206.1,119.9 207.4,119.1 208.7,118.3 210.1,117.7 211.6,117.2 213.0,116.7 214.5,116.2 216.0,115.7 217.5,115.2 218.9,114.6 218.9,114.6 217.7,115.6 216.6,116.6 215.4,117.7 214.3,118.8 213.1,119.8 211.9,120.8 210.7,121.7 209.3,122.5 208.0,123.2 206.6,123.9 205.3,124.6 203.9,125.3 202.5,126.0 201.2,126.7 199.8,127.3 198.4,128.0 197.0,128.6 195.6,129.2 194.1,129.7 192.5,130.0" fill="#0721be" />
<polygon points="194.8,127.7 195.7,126.5 196.8,125.4 197.9,124.5 199.1,123.6 200.2,122.7 201.4,121.9 202.6,121.0 203.7,120.2 204.9,119.3 206.1,118.5 207.3,117.7 208.5,116.9 209.7,116.1 211.0,115.5 212.4,114.9 213.7,114.4 215.1,113.9 216.5,113.4 217.9,112.9 219.3,112.3 219.3,112.3 218.2,113.3 217.1,114.3 216.1,115.4 215.0,116.4 213.9,117.4 212.9,118.4 211.7,119.3 210.5,120.1 209.2,120.8 208.0,121.5 206.7,122.2 205.4,122.9 204.2,123.6 202.9,124.3 201.6,124.9 200.3,125.6 199.0,126.2 197.7,126.9 196.3,127.4 194.8,127.7" fill="#0721be" />
<polygon points="194.6,124.9 195.6,123.7 196.6,122.7 197.7,121.8 198.8,120.9 199.9,120.1 201.1,119.2 202.2,118.4 203.3,117.6 204.5,116.7 205.6,115.9 206.8,115.1 207.9,114.3 209.1,113.5 210.4,112.9 211.7,112.3 213.0,111.8 214.4,111.3 215.7,110.8 217.1,110.3 218.4,109.7 218.4,109.7 217.3,110.6 216.2,111.6 215.2,112.6 214.2,113.6 213.2,114.6 212.1,115.6 211.0,116.5 209.8,117.2 208.6,117.9 207.4,118.7 206.1,119.4 204.9,120.0 203.7,120.7 202.4,121.4 201.2,122.1 200.0,122.7 198.7,123.4 197.4,124.0 196.1,124.5 194.6,124.9" fill="#0721be" />
<polygon points="194.1,122.5 195.0,121.4 196.0,120.4 197.1,119.5 198.2,118.7 199.4,117.8 200.5,117.0 201.6,116.1 202.7,115.3 203.9,114.5 205.0,113.7 206.2,112.9 207.3,112.1 208.5,111.3 209.7,110.7 211.0,110.1 212.4,109.5 213.7,109.0 215.0,108.5 216.3,107.9 217.6,107.3 217.6,107.3 216.5,108.2 215.5,109.2 214.5,110.2 213.4,111.2 212.4,112.2 211.3,113.1 210.3,114.0 209.1,114.8 207.9,115.5 206.6,116.2 205.4,116.9 204.2,117.6 203.0,118.3 201.8,119.0 200.5,119.6 199.3,120.3 198.1,121.0 196.8,121.6 195.5,122.1 194.1,122.5" fill="#0721be" />
<polygon points="193.4,120.4 195.4,118.4 197.6,116.7 199.8,115.0 202.0,113.4 204.2,111.8 206.5,110.2 208.8,108.8 211.4,107.7 214.0,106.7 216.5,105.5 216.5,105.5 214.4,107.3 212.4,109.3 210.3,111.1 208.1,112.7 205.7,114.1 203.3,115.5 201.0,116.9 198.5,118.2 196.1,119.5 193.4,120.4" fill="#0721be" />
<polygon points="192.9,118.5 194.8,116.5 196.9,114.8 199.1,113.2 201.3,111.6 203.5,110.1 205.7,108.5 208.0,107.2 210.5,106.0 213.0,105.0 215.5,103.8 215.5,103.8 213.4,105.6 211.4,107.5 209.4,109.3 207.2,110.9 204.9,112.2 202.5,113.6 200.2,114.9 197.8,116.3 195.4,117.5 192.9,118.5" fill="#0721be" />
<polygon points="192.3,116.6 194.2,114.7 196.3,113.1 198.4,111.5 200.6,110.0 202.8,108.4 204.9,106.9 207.2,105.6 209.6,104.5 212.1,103.4 214.5,102.3 214.5,102.3 212.5,104.0 210.5,105.8 208.5,107.6 206.3,109.1 204.1,110.5 201.8,111.8 199.5,113.1 197.2,114.4 194.8,115.7 192.3,116.6" fill="#0721be" />
<polygon points="191.8,114.9 193.7,113.0 195.7,111.5 197.8,109.9 200.0,108.4 202.1,106.9 204.2,105.4 206.5,104.1 208.8,103.0 211.3,102.0 213.6,100.8 213.6,100.8 211.6,102.5 209.7,104.3 207.7,106.0 205.6,107.5 203.3,108.8 201.1,110.1 198.8,111.4 196.6,112.7 194.3,113.9 191.8,114.9" fill="#0721be" />
<polygon points="191.3,113.3 193.2,111.5 195.2,109.9 197.3,108.4 199.4,106.9 201.5,105.5 203.6,104.0 205.8,102.7 208.1,101.6 210.5,100.6 212.8,99.5 212.8,99.5 210.8,101.1 208.9,102.8 206.9,104.5 204.8,106.0 202.6,107.3 200.4,108.6 198.2,109.9 196.0,111.1 193.7,112.3 191.3,113.3" fill="#0721be" />
<polygon points="190.8,111.7 192.7,110.0 194.7,108.5 196.7,107.0 198.8,105.5 200.9,104.1 202.9,102.7 205.1,101.4 207.4,100.3 209.7,99.3 212.0,98.2 212.0,98.2 210.0,99.8 208.1,101.5 206.2,103.1 204.1,104.5 202.0,105.8 199.8,107.1 197.6,108.4 195.4,109.6 193.2,110.8 190.8,111.7" fill="#0721be" />
<polygon points="190.3,110.4 192.1,108.6 194.1,107.1 196.2,105.7 198.2,104.2 200.3,102.8 202.3,101.4 204.5,100.1 206.8,99.0 209.1,98.0 211.3,96.9 211.3,96.9 209.4,98.4 207.5,100.1 205.5,101.7 203.5,103.1 201.3,104.4 199.2,105.7 197.0,107.0 194.8,108.2 192.6,109.4 190.3,110.4" fill="#0721be" />
<polygon points="189.7,109.1 191.6,107.4 193.6,105.9 195.6,104.4 197.7,103.0 199.7,101.5 201.8,100.1 203.9,98.9 206.2,97.8 208.5,96.7 210.7,95.6 210.7,95.6 208.8,97.2 206.9,98.8 204.9,100.4 202.9,101.8 200.7,103.1 198.6,104.4 196.4,105.6 194.2,106.9 192.0,108.1 189.7,109.1" fill="#0721be" />
<polygon points="189.2,107.8 191.0,106.1 193.1,104.6 195.1,103.2 197.1,101.8 199.2,100.4 201.3,99.0 203.4,97.7 205.7,96.6 207.9,95.5 210.2,94.4 210.2,94.4 208.2,95.9 206.3,97.6 204.3,99.1 202.3,100.6 200.2,101.8 198.0,103.1 195.9,104.4 193.7,105.6 191.5,106.8 189.2,107.8" fill="#0721be" />
<polygon points="188.7,106.6 190.5,105.0 192.6,103.5 194.6,102.0 196.6,100.6 198.7,99.2 200.8,97.8 202.9,96.5 205.1,95.4 207.4,94.4 209.6,93.2 209.6,93.2 207.7,94.8 205.8,96.4 203.8,98.0 201.7,99.4 199.6,100.6 197.5,101.9 195.3,103.2 193.2,104.4 191.0,105.6 188.7,106.6" fill="#0721be" />
<polygon points="188.2,105.5 190.1,103.9 192.1,102.4 194.1,100.9 196.2,99.5 198.2,98.1 200.3,96.7 202.4,95.5 204.6,94.3 206.9,93.3 209.1,92.1 209.1,92.1 207.2,93.7 205.2,95.3 203.3,96.8 201.2,98.2 199.1,99.5 196.9,100.8 194.8,102.0 192.6,103.3 190.5,104.5 188.2,105.5" fill="#0721be" />
<polygon points="187.7,104.4 189.6,102.8 191.6,101.3 193.6,99.9 195.7,98.5 197.7,97.1 199.8,95.7 201.9,94.4 204.2,93.3 206.4,92.2 208.6,91.1 208.6,91.1 206.7,92.6 204.7,94.2 202.8,95.7 200.7,97.1 198.6,98.4 196.5,99.7 194.3,100.9 192.2,102.2 190.0,103.4 187.7,104.4" fill="#0721be" />
<polygon points="187.2,103.4 189.1,101.8 191.2,100.3 193.2,98.9 195.2,97.5 197.3,96.1 199.4,94.7 201.5,93.4 203.7,92.3 206.0,91.2 208.2,90.0 208.2,90.0 206.2,91.6 204.2,93.1 202.3,94.7 200.2,96.1 198.1,97.3 196.0,98.6 193.8,99.9 191.7,101.1 189.5,102.3 187.2,103.4" fill="#0721be" />
<polygon points="186.8,102.4 188.7,100.8 190.7,99.3 192.8,97.9 194.8,96.5 196.9,95.1 198.9,93.7 201.1,92.5 203.3,91.3 205.5,90.2 207.7,89.1 207.7,89.1 205.7,90.6 203.8,92.1 201.8,93.7 199.8,95.0 197.6,96.3 195.5,97.6 193.4,98.9 191.2,100.1 189.1,101.3 186.8,102.4" fill="#0721be" />
<polygon points="186.4,101.4 188.3,99.8 190.3,98.4 192.4,97.0 194.4,95.6 196.5,94.2 198.5,92.8 200.6,91.5 202.8,90.4 205.1,89.3 207.3,88.1 207.3,88.1 205.3,89.6 203.3,91.2 201.4,92.7 199.3,94.1 197.2,95.3 195.1,96.6 193.0,97.9 190.8,99.1 188.6,100.4 186.4,101.4" fill="#0721be" />
<polygon points="186.0,100.5 187.9,98.9 189.9,97.4 192.0,96.0 194.0,94.7 196.1,93.3 198.1,91.9 200.2,90.6 202.4,89.5 204.7,88.4 206.8,87.2 206.8,87.2 204.9,88.7 202.9,90.2 200.9,91.7 198.9,93.1 196.8,94.4 194.7,95.7 192.5,96.9 190.4,98.2 188.2,99.4 186.0,100.5" fill="#0721be" />
<polygon points="185.6,99.6 187.5,98.0 189.5,96.6 191.6,95.2 193.6,93.8 195.7,92.4 197.7,91.0 199.8,89.8 202.0,88.6 204.3,87.5 206.4,86.3 206.4,86.3 204.5,87.8 202.5,89.3 200.5,90.8 198.5,92.2 196.4,93.5 194.2,94.8 192.1,96.0 190.0,97.3 187.8,98.5 185.6,99.6" fill="#0721be" />
<polygon points="185.2,98.7 187.1,97.1 189.2,95.7 191.2,94.3 193.2,92.9 195.3,91.6 197.3,90.2 199.5,88.9 201.7,87.8 203.9,86.6 206.0,85.5 206.0,85.5 204.1,87.0 202.1,88.5 200.1,90.0 198.1,91.3 196.0,92.6 193.8,93.9 191.7,95.2 189.6,96.4 187.5,97.6 185.2,98.7" fill="#0721be" />
<polygon points="184.8,97.9 186.8,96.3 188.8,94.9 190.8,93.5 192.9,92.1 194.9,90.7 197.0,89.4 199.1,88.1 201.3,87.0 203.5,85.8 205.7,84.7 205.7,84.7 203.7,86.1 201.7,87.6 199.7,89.1 197.7,90.5 195.6,91.8 193.5,93.0 191.3,94.3 189.2,95.6 187.1,96.8 184.8,97.9" fill="#0721be" />
<polygon points="184.5,97.0 186.4,95.5 188.4,94.1 190.5,92.7 192.5,91.3 194.6,90.0 196.6,88.6 198.7,87.3 200.9,86.2 203.1,85.0 205.3,83.9 205.3,83.9 203.3,85.3 201.3,86.8 199.3,88.3 197.3,89.7 195.2,91.0 193.1,92.2 191.0,93.5 188.8,94.7 186.7,96.0 184.5,97.0" fill="#0721be" />
<polygon points="184.1,96.3 186.1,94.7 188.1,93.3 190.1,91.9 192.2,90.6 194.2,89.2 196.3,87.8 198.4,86.6 200.5,85.4 202.7,84.3 204.9,83.1 204.9,83.1 202.9,84.5 201.0,86.0 199.0,87.5 196.9,88.9 194.8,90.2 192.7,91.4 190.6,92.7 188.5,93.9 186.3,95.2 184.1,96.3" fill="#0721be" />
<polygon points="183.8,95.5 185.7,94.0 187.7,92.6 189.8,91.2 191.8,89.8 193.9,88.4 195.9,87.1 198.0,85.8 200.2,84.7 202.4,83.5 204.6,82.3 204.6,82.3 202.6,83.8 200.6,85.3 198.6,86.7 196.6,88.1 194.5,89.4 192.4,90.7 190.2,91.9 188.1,93.2 186.0,94.4 183.8,95.5" fill="#0721be" />
<polygon points="183.4,94.8 185.4,93.2 187.4,91.8 189.4,90.4 191.5,89.1 193.5,87.7 195.6,86.4 197.7,85.1 199.9,83.9 202.1,82.8 204.2,81.6 204.2,81.6 202.2,83.1 200.3,84.5 198.3,86.0 196.2,87.4 194.1,88.6 192.0,89.9 189.9,91.2 187.8,92.4 185.7,93.7 183.4,94.8" fill="#0721be" />
<polygon points="183.1,94.0 185.1,92.5 187.1,91.1 189.1,89.7 191.2,88.4 193.2,87.0 195.3,85.7 197.4,84.4 199.5,83.2 201.7,82.1 203.9,80.9 203.9,80.9 201.9,82.3 199.9,83.8 197.9,85.3 195.9,86.6 193.8,87.9 191.7,89.2 189.6,90.4 187.5,91.7 185.3,92.9 183.1,94.0" fill="#0721be" />
<polygon points="182.8,93.3 184.7,91.8 186.8,90.4 188.8,89.0 190.9,87.7 192.9,86.3 195.0,85.0 197.1,83.7 199.2,82.5 201.4,81.4 203.6,80.2 203.6,80.2 201.6,81.6 199.6,83.1 197.6,84.6 195.6,85.9 193.5,87.2 191.4,88.5 189.2,89.7 187.1,91.0 185.0,92.2 182.8,93.3" fill="#0721be" />
<polygon points="182.5,92.6 184.4,91.1 186.5,89.7 188.5,88.4 190.6,87.0 192.6,85.7 194.7,84.3 196.8,83.0 198.9,81.9 201.1,80.7 203.3,79.5 203.3,79.5 201.3,81.0 199.3,82.4 197.3,83.9 195.2,85.2 193.1,86.5 191.0,87.8 188.9,89.0 186.8,90.3 184.7,91.5 182.5,92.6" fill="#0721be" />
<polygon points="182.2,92.0 184.1,90.5 186.2,89.1 188.2,87.7 190.3,86.4 192.3,85.0 194.4,83.7 196.5,82.4 198.6,81.2 200.8,80.1 203.0,78.9 203.0,78.9 201.0,80.3 199.0,81.8 197.0,83.2 194.9,84.5 192.8,85.8 190.7,87.1 188.6,88.4 186.5,89.6 184.4,90.9 182.2,92.0" fill="#0721be" />
<polygon points="181.9,91.3 183.9,89.8 185.9,88.4 187.9,87.1 190.0,85.7 192.0,84.4 194.1,83.0 196.2,81.8 198.3,80.6 200.5,79.4 202.7,78.2 202.7,78.2 200.7,79.7 198.7,81.1 196.7,82.5 194.6,83.9 192.5,85.2 190.4,86.4 188.3,87.7 186.2,89.0 184.1,90.2 181.9,91.3" fill="#0721be" />
<polygon points="181.6,90.7 183.6,89.2 185.6,87.8 187.6,86.4 189.7,85.1 191.7,83.7 193.8,82.4 195.9,81.1 198.1,80.0 200.2,78.8 202.4,77.6 202.4,77.6 200.4,79.0 198.4,80.5 196.4,81.9 194.3,83.3 192.2,84.5 190.1,85.8 188.0,87.1 185.9,88.3 183.8,89.6 181.6,90.7" fill="#0721be" />
<polygon points="181.3,90.1 183.3,88.6 185.3,87.2 187.4,85.8 189.4,84.5 191.5,83.1 193.5,81.8 195.6,80.5 197.8,79.3 199.9,78.2 202.1,77.0 202.1,77.0 200.1,78.4 198.1,79.9 196.1,81.3 194.0,82.6 192.0,83.9 189.9,85.2 187.8,86.4 185.6,87.7 183.5,88.9 181.3,90.1" fill="#0721be" />
<polygon points="181.1,89.5 183.0,88.0 185.1,86.6 187.1,85.2 189.1,83.9 191.2,82.5 193.3,81.2 195.4,79.9 197.5,78.7 199.7,77.6 201.8,76.4 201.8,76.4 199.8,77.8 197.8,79.2 195.8,80.7 193.8,82.0 191.7,83.3 189.6,84.6 187.5,85.8 185.4,87.1 183.2,88.3 181.1,89.5" fill="#0721be" />
<polygon points="180.8,88.9 182.8,87.4 184.8,86.0 186.8,84.6 188.9,83.3 190.9,82.0 193.0,80.6 195.1,79.4 197.2,78.2 199.4,77.0 201.5,75.8 201.5,75.8 199.5,77.2 197.5,78.7 195.5,80.1 193.5,81.4 191.4,82.7 189.3,84.0 187.2,85.2 185.1,86.5 183.0,87.7 180.8,88.9" fill="#0721be" />
<polygon points="180.5,88.3 182.5,86.8 184.5,85.4 186.6,84.1 188.6,82.7 190.7,81.4 192.7,80.1 194.8,78.8 197.0,77.6 199.1,76.4 201.3,75.2 201.3,75.2 199.3,76.6 197.3,78.1 195.3,79.5 193.2,80.8 191.1,82.1 189.0,83.4 186.9,84.6 184.8,85.9 182.7,87.1 180.5,88.3" fill="#0721be" />
<polygon points="180.3,87.7 182.2,86.2 184.3,84.9 186.3,83.5 188.4,82.2 190.4,80.8 192.5,79.5 194.6,78.2 196.7,77.0 198.9,75.9 201.0,74.7 201.0,74.7 199.0,76.1 197.0,77.5 195.0,78.9 193.0,80.3 190.9,81.5 188.8,82.8 186.7,84.1 184.6,85.3 182.5,86.6 180.3,87.7" fill="#0721be" />
<polygon points="180.0,87.2 182.0,85.7 184.0,84.3 186.1,83.0 188.1,81.6 190.2,80.3 192.2,79.0 194.3,77.7 196.5,76.5 198.6,75.3 200.8,74.1 200.8,74.1 198.8,75.5 196.8,77.0 194.8,78.4 192.7,79.7 190.6,81.0 188.5,82.3 186.4,83.5 184.3,84.8 182.2,86.0 180.0,87.2" fill="#0721be" />
<polygon points="179.8,86.6 181.8,85.1 183.8,83.8 185.8,82.4 187.9,81.1 189.9,79.8 192.0,78.4 194.1,77.2 196.2,76.0 198.4,74.8 200.5,73.6 200.5,73.6 198.5,75.0 196.5,76.4 194.5,77.8 192.5,79.2 190.4,80.4 188.3,81.7 186.2,83.0 184.1,84.2 182.0,85.5 179.8,86.6" fill="#0721be" />
<polygon points="179.5,86.1 181.5,84.6 183.5,83.3 185.6,81.9 187.6,80.6 189.7,79.2 191.8,77.9 193.8,76.6 196.0,75.4 198.1,74.3 200.3,73.1 200.3,73.1 198.3,74.5 196.3,75.9 194.3,77.3 192.2,78.6 190.1,79.9 188.0,81.2 185.9,82.4 183.8,83.7 181.7,84.9 179.5,86.1" fill="#0721be" />
<polygon points="179.3,85.6 181.2,84.1 183.3,82.8 185.3,81.4 187.4,80.1 189.4,78.8 191.5,77.4 193.6,76.2 195.7,75.0 197.9,73.8 200.0,72.6 200.0,72.6 198.0,74.0 196.0,75.4 194.0,76.8 191.9,78.1 189.8,79.4 187.7,80.7 185.6,81.9 183.5,83.2 181.4,84.4 179.3,85.6" fill="#0721be" />
<polygon points="179.0,85.1 181.0,83.6 183.0,82.3 185.0,80.9 187.1,79.6 189.2,78.3 191.2,76.9 193.3,75.7 195.5,74.5 197.6,73.3 199.8,72.1 199.8,72.1 197.7,73.5 195.7,74.9 193.7,76.3 191.7,77.6 189.6,78.9 187.5,80.2 185.4,81.4 183.3,82.7 181.1,83.9 179.0,85.1" fill="#0721be" />
<polygon points="178.7,84.6 180.7,83.2 182.7,81.8 184.8,80.5 186.8,79.1 188.9,77.8 191.0,76.5 193.1,75.2 195.2,74.0 197.4,72.8 199.5,71.6 199.5,71.6 197.5,73.0 195.5,74.4 193.5,75.8 191.4,77.2 189.3,78.4 187.2,79.7 185.1,81.0 183.0,82.2 180.9,83.5 178.7,84.6" fill="#0721be" />
<polygon points="178.4,84.2 180.4,82.7 182.5,81.3 184.5,80.0 186.6,78.7 188.6,77.3 190.7,76.0 192.8,74.7 195.0,73.5 197.1,72.3 199.2,71.1 199.2,71.1 197.2,72.5 195.2,73.9 193.2,75.3 191.1,76.7 189.0,78.0 186.9,79.2 184.8,80.5 182.7,81.8 180.6,83.0 178.4,84.2" fill="#0721be" />
<polygon points="178.2,83.7 180.2,82.2 182.2,80.9 184.3,79.5 186.3,78.2 188.4,76.9 190.5,75.5 192.6,74.3 194.7,73.1 196.9,71.9 199.0,70.7 199.0,70.7 197.0,72.1 195.0,73.5 193.0,74.9 190.9,76.2 188.8,77.5 186.7,78.8 184.6,80.0 182.5,81.3 180.4,82.5 178.2,83.7" fill="#0721be" />
<polygon points="177.9,83.2 179.9,81.8 182.0,80.4 184.0,79.1 186.1,77.7 188.1,76.4 190.2,75.1 192.3,73.8 194.5,72.6 196.6,71.4 198.8,70.2 198.8,70.2 196.7,71.6 194.7,73.0 192.7,74.4 190.6,75.8 188.5,77.0 186.4,78.3 184.3,79.6 182.2,80.9 180.1,82.1 177.9,83.2" fill="#0721be" />
<polygon points="177.7,82.8 179.7,81.3 181.7,80.0 183.8,78.6 185.8,77.3 187.9,76.0 190.0,74.6 192.1,73.4 194.2,72.2 196.4,71.0 198.5,69.8 198.5,69.8 196.5,71.2 194.5,72.6 192.5,74.0 190.4,75.3 188.3,76.6 186.2,77.9 184.1,79.1 182.0,80.4 179.8,81.7 177.7,82.8" fill="#0721be" />
<polygon points="177.4,82.4 179.4,80.9 181.5,79.5 183.5,78.2 185.6,76.9 187.7,75.5 189.7,74.2 191.8,72.9 194.0,71.7 196.1,70.5 198.3,69.3 198.3,69.3 196.3,70.7 194.3,72.1 192.2,73.6 190.2,74.9 188.1,76.2 186.0,77.4 183.8,78.7 181.7,80.0 179.6,81.2 177.4,82.4" fill="#0721be" />
<polygon points="177.2,81.9 179.2,80.5 181.2,79.1 183.3,77.8 185.4,76.4 187.4,75.1 189.5,73.8 191.6,72.5 193.8,71.3 195.9,70.1 198.1,68.9 198.1,68.9 196.0,70.3 194.0,71.7 192.0,73.1 189.9,74.5 187.8,75.7 185.7,77.0 183.6,78.3 181.5,79.5 179.4,80.8 177.2,81.9" fill="#0721be" />
<polygon points="176.9,81.5 178.9,80.1 181.0,78.7 183.1,77.3 185.1,76.0 187.2,74.7 189.3,73.3 191.4,72.1 193.5,70.9 195.7,69.7 197.8,68.5 197.8,68.5 195.8,69.9 193.8,71.3 191.8,72.7 189.7,74.0 187.6,75.3 185.5,76.6 183.4,77.9 181.3,79.1 179.1,80.4 176.9,81.5" fill="#0721be" />
<polygon points="176.7,81.1 178.7,79.7 180.8,78.3 182.8,76.9 184.9,75.6 187.0,74.3 189.0,72.9 191.1,71.7 193.3,70.4 195.5,69.3 197.6,68.0 197.6,68.0 195.6,69.4 193.6,70.9 191.5,72.3 189.5,73.6 187.4,74.9 185.3,76.2 183.1,77.4 181.0,78.7 178.9,80.0 176.7,81.1" fill="#0721be" />
<polygon points="176.5,80.7 178.5,79.2 180.5,77.9 182.6,76.5 184.7,75.2 186.7,73.8 188.8,72.5 190.9,71.2 193.1,70.0 195.3,68.9 197.4,67.6 197.4,67.6 195.4,69.0 193.4,70.5 191.3,71.9 189.2,73.2 187.1,74.5 185.0,75.8 182.9,77.0 180.8,78.3 178.7,79.5 176.5,80.7" fill="#0721be" />
<polygon points="176.2,80.3 178.2,78.8 180.3,77.5 182.4,76.1 184.4,74.8 186.5,73.4 188.6,72.1 190.7,70.8 192.9,69.6 195.0,68.4 197.2,67.2 197.2,67.2 195.2,68.6 193.1,70.1 191.1,71.5 189.0,72.8 186.9,74.1 184.8,75.4 182.7,76.6 180.6,77.9 178.4,79.1 176.2,80.3" fill="#0721be" />
<polygon points="176.0,79.9 178.0,78.5 180.1,77.1 182.2,75.7 184.2,74.4 186.3,73.1 188.4,71.7 190.5,70.4 192.7,69.2 194.8,68.0 197.0,66.8 197.0,66.8 194.9,68.2 192.9,69.7 190.9,71.1 188.8,72.4 186.7,73.7 184.6,75.0 182.5,76.2 180.3,77.5 178.2,78.8 176.0,79.9" fill="#0721be" />
<polygon points="175.8,79.5 177.8,78.1 179.9,76.7 181.9,75.3 184.0,74.0 186.1,72.7 188.2,71.3 190.3,70.1 192.4,68.8 194.6,67.7 196.8,66.4 196.8,66.4 194.7,67.8 192.7,69.3 190.7,70.7 188.6,72.0 186.5,73.3 184.4,74.6 182.3,75.9 180.1,77.1 178.0,78.4 175.8,79.5" fill="#0721be" />
<polygon points="175.6,79.1 177.6,77.7 179.7,76.3 181.7,75.0 183.8,73.6 185.9,72.3 188.0,70.9 190.1,69.7 192.2,68.5 194.4,67.3 196.6,66.1 196.6,66.1 194.5,67.5 192.5,68.9 190.5,70.3 188.4,71.6 186.3,72.9 184.2,74.2 182.0,75.5 179.9,76.7 177.8,78.0 175.6,79.1" fill="#0721be" />
<polygon points="175.4,78.8 177.4,77.3 179.4,75.9 181.5,74.6 183.6,73.2 185.7,71.9 187.8,70.6 189.9,69.3 192.0,68.1 194.2,66.9 196.4,65.7 196.4,65.7 194.3,67.1 192.3,68.5 190.3,69.9 188.2,71.3 186.1,72.5 184.0,73.8 181.8,75.1 179.7,76.4 177.6,77.6 175.4,78.8" fill="#0721be" />
<polygon points="175.2,78.4 177.2,76.9 179.2,75.6 181.3,74.2 183.4,72.9 185.5,71.5 187.6,70.2 189.7,68.9 191.8,67.7 194.0,66.5 196.2,65.3 196.2,65.3 194.1,66.7 192.1,68.1 190.1,69.5 188.0,70.9 185.9,72.2 183.8,73.5 181.6,74.7 179.5,76.0 177.4,77.2 175.2,78.4" fill="#0721be" />
<polygon points="175.0,78.0 177.0,76.6 179.0,75.2 181.1,73.8 183.2,72.5 185.3,71.2 187.4,69.8 189.5,68.5 191.6,67.3 193.8,66.2 196.0,64.9 196.0,64.9 193.9,66.3 191.9,67.8 189.9,69.2 187.8,70.5 185.7,71.8 183.6,73.1 181.4,74.4 179.3,75.6 177.2,76.9 175.0,78.0" fill="#0721be" />
<polygon points="169.2,207.4 176.0,208.4 180.3,209.6 183.2,212.8 180.0,215.6 177.8,218.2 177.2,225.0 177.0,233.7 175.8,240.0 174.5,245.3 172.5,251.0 170.6,256.9 169.2,259.0" fill="#8fd9b4" />
<polyline points="169.2,207.4 176.0,208.4 180.3,209.6 183.2,212.8 180.0,215.6 177.8,218.2 177.2,225.0 177.0,233.7 175.8,240.0 174.5,245.3 172.5,251.0 170.6,256.9 169.2,259.0" fill="none" stroke="#6fc79a" stroke-width="0.7" />
<polygon points="117.9,50.0 169.2,50.0 169.2,317.0 117.9,317.0" fill="#d1b7c2" />
<polygon points="117.9,191.9 118.0,191.9 140.0,198.0 148.0,201.5 169.4,206.8 169.2,267.5 117.9,267.5" fill="#9da291" />
<polygon points="117.9,267.5 169.2,267.5 169.2,317.0 117.9,317.0" fill="#c9a27f" />
<polygon points="60.0,50.0 117.9,50.0 117.9,317.0 60.0,317.0" fill="#8b7a84" />
<polygon points="60.0,182.8 91.7,186.9 117.9,191.9 117.9,267.5 60.0,267.5" fill="#6c7564" />
<polygon points="60.0,267.5 117.9,267.5 117.9,317.0 60.0,317.0" fill="#8a6c54" />
<polygon points="157.8,50.0 169.2,50.0 169.2,67.5" fill="#301c98" />
<clipPath id="cl"><rect x="60" y="50" width="109.2" height="267"/></clipPath>
<g clip-path="url(#cl)"><polygon points="169.2,302.3 161.3,317.0 169.2,317.0" fill="#f3a7ae" /><polygon points="169.2,279.3 146.5,317.0 161.3,317.0 169.2,302.3" fill="#8a3fc4" /><polygon points="169.2,256.7 133.5,317.0 146.5,317.0 169.2,279.3" fill="#4a1590" /><polygon points="169.2,256.7 133.5,317.0 142.4,317.0 161.4,280.0 167.6,267.8 169.2,262.0" fill="#5a3c60" /><polyline points="142.4,317.0 161.4,280.0 167.6,267.8 169.2,261.0" fill="none" stroke="#74745c" stroke-width="0.9" /></g>
<clipPath id="c1"><rect x="60" y="50" width="57.9" height="267"/></clipPath><clipPath id="c2"><rect x="117.9" y="50" width="51.3" height="267"/></clipPath><clipPath id="c3"><rect x="169.2" y="50" width="157.8" height="267"/></clipPath>
<g clip-path="url(#c1)"><polyline points="60.0,267.4 169.4,267.4 180.0,266.5 190.0,264.8 198.0,262.3 205.7,259.0 215.5,254.8 228.0,247.8 234.0,241.5 241.3,234.5 249.2,232.0 258.0,226.4 262.7,223.2 272.8,214.2 279.6,206.3 285.2,205.2 300.0,200.8 312.2,197.6 320.0,194.4 327.0,190.6" fill="none" stroke="#2c93cc" stroke-width="1.2" /><polyline points="60.0,289.6 169.4,289.6 185.0,288.8 198.0,287.4 215.5,283.8 228.0,280.5 240.0,276.2 250.0,271.6 261.9,264.5 272.5,257.0 284.0,246.5 295.0,234.8 304.4,225.0 314.1,211.0 321.9,195.5 325.5,189.0" fill="none" stroke="#2692d0" stroke-width="1.2" stroke-dasharray="4.2,2.5"/><polyline points="60.0,292.8 291.5,292.8" fill="none" stroke="#c27022" stroke-width="1.2" stroke-dasharray="4.2,2.5" stroke-dashoffset="3"/></g>
<g clip-path="url(#c2)"><polyline points="60.0,267.4 169.4,267.4 180.0,266.5 190.0,264.8 198.0,262.3 205.7,259.0 215.5,254.8 228.0,247.8 234.0,241.5 241.3,234.5 249.2,232.0 258.0,226.4 262.7,223.2 272.8,214.2 279.6,206.3 285.2,205.2 300.0,200.8 312.2,197.6 320.0,194.4 327.0,190.6" fill="none" stroke="#22a0dc" stroke-width="1.3" /><polyline points="60.0,289.6 169.4,289.6 185.0,288.8 198.0,287.4 215.5,283.8 228.0,280.5 240.0,276.2 250.0,271.6 261.9,264.5 272.5,257.0 284.0,246.5 295.0,234.8 304.4,225.0 314.1,211.0 321.9,195.5 325.5,189.0" fill="none" stroke="#22a8e8" stroke-width="1.3" stroke-dasharray="4.2,2.5"/><polyline points="60.0,292.8 291.5,292.8" fill="none" stroke="#d97c2a" stroke-width="1.3" stroke-dasharray="4.2,2.5" stroke-dashoffset="3"/></g>
<g clip-path="url(#c3)"><polyline points="60.0,267.4 169.4,267.4 180.0,266.5 190.0,264.8 198.0,262.3 205.7,259.0 215.5,254.8 228.0,247.8 234.0,241.5 241.3,234.5 249.2,232.0 258.0,226.4 262.7,223.2 272.8,214.2 279.6,206.3 285.2,205.2 300.0,200.8 312.2,197.6 320.0,194.4 327.0,190.6" fill="none" stroke="#1fa4e2" stroke-width="1.4" /><polyline points="60.0,289.6 169.4,289.6 185.0,288.8 198.0,287.4 215.5,283.8 228.0,280.5 240.0,276.2 250.0,271.6 261.9,264.5 272.5,257.0 284.0,246.5 295.0,234.8 304.4,225.0 314.1,211.0 321.9,195.5 325.5,189.0" fill="none" stroke="#1fb0ee" stroke-width="1.4" stroke-dasharray="4.2,2.5"/><polyline points="60.0,292.8 291.5,292.8" fill="none" stroke="#e0832e" stroke-width="1.4" stroke-dasharray="4.2,2.5" stroke-dashoffset="3"/></g>
<polygon points="273.6,317.0 327.0,250.2 327.0,317.0" fill="#b1b1b1" />
<polyline points="273.6,317.0 327.0,250.2" fill="none" stroke="#151515" stroke-width="1.4" />
<polyline points="117.9,50.0 117.9,317.0" fill="none" stroke="#221e1e" stroke-width="1.45" />
<polyline points="169.6,50.0 169.6,317.0" fill="none" stroke="#de1c2c" stroke-width="1.05" />
<polyline points="168.5,50.5 168.5,317.0" fill="none" stroke="#151515" stroke-width="1.0" stroke-dasharray="1.3,1.8"/>
<polyline points="205.8,50.5 205.8,317.0" fill="none" stroke="#4d4d4d" stroke-width="1.15" stroke-dasharray="1.3,1.8"/>
<polyline points="219.4,297.2 219.4,307.0" fill="none" stroke="#dd7420" stroke-width="1.5" />
<polygon points="216.7,305.2 219.4,310.8 222.1,305.2 219.4,306.4" fill="#dd7420" />
</g>
<path d="M60.5,316.5v-5.0M60.5,50.2v5.0M76.5,316.5v-3.0M76.5,50.2v3.0M85.9,316.5v-3.0M85.9,50.2v3.0M92.5,316.5v-3.0M92.5,50.2v3.0M97.7,316.5v-3.0M97.7,50.2v3.0M101.9,316.5v-3.0M101.9,50.2v3.0M105.5,316.5v-3.0M105.5,50.2v3.0M108.5,316.5v-3.0M108.5,50.2v3.0M111.3,316.5v-3.0M111.3,50.2v3.0M113.7,316.5v-5.0M113.7,50.2v5.0M129.7,316.5v-3.0M129.7,50.2v3.0M139.1,316.5v-3.0M139.1,50.2v3.0M145.7,316.5v-3.0M145.7,50.2v3.0M150.9,316.5v-3.0M150.9,50.2v3.0M155.1,316.5v-3.0M155.1,50.2v3.0M158.7,316.5v-3.0M158.7,50.2v3.0M161.7,316.5v-3.0M161.7,50.2v3.0M164.5,316.5v-3.0M164.5,50.2v3.0M166.9,316.5v-5.0M166.9,50.2v5.0M182.9,316.5v-3.0M182.9,50.2v3.0M192.3,316.5v-3.0M192.3,50.2v3.0M198.9,316.5v-3.0M198.9,50.2v3.0M204.1,316.5v-3.0M204.1,50.2v3.0M208.3,316.5v-3.0M208.3,50.2v3.0M211.9,316.5v-3.0M211.9,50.2v3.0M214.9,316.5v-3.0M214.9,50.2v3.0M217.7,316.5v-3.0M217.7,50.2v3.0M220.1,316.5v-5.0M220.1,50.2v5.0M236.1,316.5v-3.0M236.1,50.2v3.0M245.5,316.5v-3.0M245.5,50.2v3.0M252.1,316.5v-3.0M252.1,50.2v3.0M257.3,316.5v-3.0M257.3,50.2v3.0M261.5,316.5v-3.0M261.5,50.2v3.0M265.1,316.5v-3.0M265.1,50.2v3.0M268.1,316.5v-3.0M268.1,50.2v3.0M270.9,316.5v-3.0M270.9,50.2v3.0M273.3,316.5v-5.0M273.3,50.2v5.0M289.3,316.5v-3.0M289.3,50.2v3.0M298.7,316.5v-3.0M298.7,50.2v3.0M305.3,316.5v-3.0M305.3,50.2v3.0M310.5,316.5v-3.0M310.5,50.2v3.0M314.7,316.5v-3.0M314.7,50.2v3.0M318.3,316.5v-3.0M318.3,50.2v3.0M321.3,316.5v-3.0M321.3,50.2v3.0M324.1,316.5v-3.0M324.1,50.2v3.0M326.5,316.5v-5.0M326.5,50.2v5.0M60.5,316.5h5.0M326.5,316.5h-5.0M60.5,296.5h3.0M326.5,296.5h-3.0M60.5,284.8h3.0M326.5,284.8h-3.0M60.5,276.5h3.0M326.5,276.5h-3.0M60.5,270.0h3.0M326.5,270.0h-3.0M60.5,264.8h3.0M326.5,264.8h-3.0M60.5,260.3h3.0M326.5,260.3h-3.0M60.5,256.4h3.0M326.5,256.4h-3.0M60.5,253.0h3.0M326.5,253.0h-3.0M60.5,250.0h5.0M326.5,250.0h-5.0M60.5,230.0h3.0M326.5,230.0h-3.0M60.5,218.3h3.0M326.5,218.3h-3.0M60.5,210.0h3.0M326.5,210.0h-3.0M60.5,203.5h3.0M326.5,203.5h-3.0M60.5,198.3h3.0M326.5,198.3h-3.0M60.5,193.8h3.0M326.5,193.8h-3.0M60.5,189.9h3.0M326.5,189.9h-3.0M60.5,186.5h3.0M326.5,186.5h-3.0M60.5,183.5h5.0M326.5,183.5h-5.0M60.5,163.5h3.0M326.5,163.5h-3.0M60.5,151.8h3.0M326.5,151.8h-3.0M60.5,143.5h3.0M326.5,143.5h-3.0M60.5,137.0h3.0M326.5,137.0h-3.0M60.5,131.8h3.0M326.5,131.8h-3.0M60.5,127.3h3.0M326.5,127.3h-3.0M60.5,123.4h3.0M326.5,123.4h-3.0M60.5,120.0h3.0M326.5,120.0h-3.0M60.5,117.0h5.0M326.5,117.0h-5.0M60.5,97.0h3.0M326.5,97.0h-3.0M60.5,85.3h3.0M326.5,85.3h-3.0M60.5,77.0h3.0M326.5,77.0h-3.0M60.5,70.5h3.0M326.5,70.5h-3.0M60.5,65.3h3.0M326.5,65.3h-3.0M60.5,60.8h3.0M326.5,60.8h-3.0M60.5,56.9h3.0M326.5,56.9h-3.0M60.5,53.5h3.0M326.5,53.5h-3.0M60.5,50.5h5.0M326.5,50.5h-5.0" stroke="#2a2a2a" stroke-width="0.55" fill="none"/>
<path d="M60.5,49.6V316.5H326.5V49.6" fill="none" stroke="#3c3c3c" stroke-width="0.9"/><path d="M60,49.85H327" fill="none" stroke="#6a6a6a" stroke-width="0.8"/>
<g opacity="0.995">
<g transform="translate(141.00 35.20) rotate(0)" fill="#141414"><text x="0.00" y="0.00" font-size="14.5" font-style="italic">y</text><text x="7.50" y="2.20" font-size="10" textLength="16.2" lengthAdjust="spacingAndGlyphs">SM</text><text x="31.70" y="0.00" font-size="14.5" textLength="9.5" lengthAdjust="spacingAndGlyphs">=</text><text x="46.00" y="0.00" font-size="14.5">5</text><text x="57.30" y="0.60" font-size="17" textLength="9.6" lengthAdjust="spacingAndGlyphs">×</text><text x="73.00" y="0.00" font-size="14.5">10</text><text x="86.70" y="-5.00" font-size="10" textLength="15.8" lengthAdjust="spacingAndGlyphs">−5</text></g>
<g transform="translate(161.20 352.30) rotate(0)" fill="#141414"><text x="0.00" y="0.00" font-size="14.5" font-style="italic" textLength="12.7" lengthAdjust="spacingAndGlyphs">m</text><text x="13.50" y="2.70" font-size="10" font-style="italic" textLength="6.8" lengthAdjust="spacingAndGlyphs">ϕ</text><text x="26.70" y="0.00" font-size="14.5" textLength="37.4" lengthAdjust="spacingAndGlyphs">[MeV]</text></g>
<g transform="translate(17.20 215.70) rotate(-90)" fill="#141414"><text x="0.00" y="0.00" font-size="14.5" font-style="italic" textLength="11.5" lengthAdjust="spacingAndGlyphs">m</text><text x="12.20" y="2.70" font-size="10" font-style="italic" textLength="6.6" lengthAdjust="spacingAndGlyphs">ψ</text><text x="24.70" y="0.00" font-size="14.5" textLength="37.6" lengthAdjust="spacingAndGlyphs">[GeV]</text></g>
<g transform="translate(48.80 331.40) rotate(0)" fill="#141414"><text x="-0.60" y="0.00" font-size="14" textLength="13.2" lengthAdjust="spacingAndGlyphs">10</text><text x="12.90" y="-5.60" font-size="9.8">−2</text></g>
<g transform="translate(102.00 331.40) rotate(0)" fill="#141414"><text x="-0.60" y="0.00" font-size="14" textLength="13.2" lengthAdjust="spacingAndGlyphs">10</text><text x="12.90" y="-5.60" font-size="9.8">−1</text></g>
<g transform="translate(158.30 331.40) rotate(0)" fill="#141414"><text x="-0.60" y="0.00" font-size="14" textLength="13.2" lengthAdjust="spacingAndGlyphs">10</text><text x="12.90" y="-5.60" font-size="9.3">0</text></g>
<g transform="translate(211.50 331.40) rotate(0)" fill="#141414"><text x="-0.60" y="0.00" font-size="14" textLength="13.2" lengthAdjust="spacingAndGlyphs">10</text><text x="12.90" y="-5.60" font-size="9.3">1</text></g>
<g transform="translate(264.70 331.40) rotate(0)" fill="#141414"><text x="-0.60" y="0.00" font-size="14" textLength="13.2" lengthAdjust="spacingAndGlyphs">10</text><text x="12.90" y="-5.60" font-size="9.3">2</text></g>
<g transform="translate(317.90 331.40) rotate(0)" fill="#141414"><text x="-0.60" y="0.00" font-size="14" textLength="13.2" lengthAdjust="spacingAndGlyphs">10</text><text x="12.90" y="-5.60" font-size="9.3">3</text></g>
<g transform="translate(31.20 322.10) rotate(0)" fill="#141414"><text x="-0.60" y="0.00" font-size="14" textLength="13.2" lengthAdjust="spacingAndGlyphs">10</text><text x="12.90" y="-5.60" font-size="9.8">−1</text></g>
<g transform="translate(37.40 255.60) rotate(0)" fill="#141414"><text x="-0.60" y="0.00" font-size="14" textLength="13.2" lengthAdjust="spacingAndGlyphs">10</text><text x="12.90" y="-5.60" font-size="9.3">0</text></g>
<g transform="translate(37.40 189.10) rotate(0)" fill="#141414"><text x="-0.60" y="0.00" font-size="14" textLength="13.2" lengthAdjust="spacingAndGlyphs">10</text><text x="12.90" y="-5.60" font-size="9.3">1</text></g>
<g transform="translate(37.40 122.60) rotate(0)" fill="#141414"><text x="-0.60" y="0.00" font-size="14" textLength="13.2" lengthAdjust="spacingAndGlyphs">10</text><text x="12.90" y="-5.60" font-size="9.3">2</text></g>
<g transform="translate(37.40 56.10) rotate(0)" fill="#141414"><text x="-0.60" y="0.00" font-size="14" textLength="13.2" lengthAdjust="spacingAndGlyphs">10</text><text x="12.90" y="-5.60" font-size="9.3">3</text></g>
<g transform="translate(77.40 124.00) rotate(-90)" fill="#1d161b"><text x="0.00" y="0.00" font-size="12" font-style="italic" textLength="5.8" lengthAdjust="spacingAndGlyphs">τ</text><text x="5.80" y="2.30" font-size="8.5" font-style="italic" textLength="5.8" lengthAdjust="spacingAndGlyphs">ϕ</text><text x="16.90" y="0.00" font-size="12" textLength="7.9" lengthAdjust="spacingAndGlyphs">&gt;</text><text x="29.40" y="0.00" font-size="12" textLength="11.4" lengthAdjust="spacingAndGlyphs">10</text><text x="41.50" y="-4.60" font-size="8.5">8</text><text x="49.50" y="0.00" font-size="12">s</text></g>
<g transform="translate(90.60 140.70) rotate(-90)" fill="#1d161b"><text x="0.00" y="0.00" font-size="12" textLength="84.7" lengthAdjust="spacingAndGlyphs">(CMB excluded)</text></g>
<g transform="translate(163.30 135.10) rotate(-90)" fill="#e3141c"><text x="0.00" y="0.00" font-size="12" textLength="73.7" lengthAdjust="spacingAndGlyphs">BBN excluded</text></g>
<g transform="translate(163.50 200.30) rotate(-90)" fill="#1d161b"><text x="0.00" y="0.00" font-size="12" font-style="italic" textLength="5.2" lengthAdjust="spacingAndGlyphs">τ</text><text x="5.20" y="2.30" font-size="8.5" font-style="italic" textLength="5.8" lengthAdjust="spacingAndGlyphs">ϕ</text><text x="14.30" y="0.00" font-size="12" textLength="7.0" lengthAdjust="spacingAndGlyphs">=</text><text x="23.70" y="0.00" font-size="12" textLength="17.8" lengthAdjust="spacingAndGlyphs">100</text><text x="45.20" y="0.00" font-size="12">s</text></g>
<g transform="translate(217.30 288.00) rotate(-90)" fill="#1d161b"><text x="0.00" y="0.00" font-size="12" font-style="italic" textLength="5.8" lengthAdjust="spacingAndGlyphs">τ</text><text x="5.80" y="2.30" font-size="8.5" font-style="italic" textLength="5.8" lengthAdjust="spacingAndGlyphs">ϕ</text><text x="15.00" y="0.00" font-size="12" textLength="7.0" lengthAdjust="spacingAndGlyphs">=</text><text x="24.50" y="0.00" font-size="12" textLength="14.4" lengthAdjust="spacingAndGlyphs">0.3</text><text x="42.50" y="0.00" font-size="12">s</text></g>
<g transform="translate(75.80 263.80) rotate(-90)" fill="#267426" stroke="#267426" stroke-width="0.3"><text x="0.00" y="0.00" font-size="12">(</text><text x="4.50" y="0.00" font-size="12" font-style="italic" textLength="5.8" lengthAdjust="spacingAndGlyphs">σ</text><text x="10.60" y="2.20" font-size="8.5" font-style="italic" textLength="4.7" lengthAdjust="spacingAndGlyphs">T</text><text x="16.30" y="0.00" font-size="12" textLength="5.3" lengthAdjust="spacingAndGlyphs">/</text><text x="22.30" y="0.00" font-size="12" font-style="italic" textLength="9.5" lengthAdjust="spacingAndGlyphs">m</text><text x="32.20" y="2.20" font-size="8.5" font-style="italic" textLength="4.7" lengthAdjust="spacingAndGlyphs">ψ</text><text x="38.30" y="0.00" font-size="12">)</text><text x="42.30" y="2.70" font-size="8.5" textLength="29.9" lengthAdjust="spacingAndGlyphs">cluster</text></g>
<g transform="translate(91.40 255.60) rotate(-90)" fill="#267426" stroke="#267426" stroke-width="0.3"><text x="0.00" y="0.00" font-size="12" textLength="7.1" lengthAdjust="spacingAndGlyphs">&gt;</text><text x="10.80" y="0.00" font-size="12">1</text><text x="17.60" y="0.00" font-size="12" textLength="13.0" lengthAdjust="spacingAndGlyphs">cm</text><text x="31.60" y="-4.60" font-size="8.5">2</text><text x="37.60" y="0.00" font-size="12">g</text><text x="44.20" y="-4.60" font-size="8.5" textLength="9.4" lengthAdjust="spacingAndGlyphs">−1</text></g>
<g transform="translate(172.20 56.60) rotate(61)" fill="#ffffff"><text x="-0.50" y="0.00" font-size="12">1</text><text x="7.00" y="0.00" font-size="12" textLength="8.8" lengthAdjust="spacingAndGlyphs">−</text><text x="19.20" y="0.00" font-size="12" textLength="11.8" lengthAdjust="spacingAndGlyphs">10</text><text x="33.80" y="0.00" font-size="12" textLength="13.2" lengthAdjust="spacingAndGlyphs">cm</text><text x="49.60" y="-4.60" font-size="8.5">2</text><text x="54.60" y="0.00" font-size="12">g</text><text x="63.80" y="-4.60" font-size="8.5" textLength="10.5" lengthAdjust="spacingAndGlyphs">−1</text></g>
<g transform="translate(202.80 58.60) rotate(61)" fill="#ffffff"><text x="0.00" y="0.00" font-size="12" textLength="14.5" lengthAdjust="spacingAndGlyphs">0.1</text><text x="17.50" y="0.00" font-size="12" textLength="8.8" lengthAdjust="spacingAndGlyphs">−</text><text x="28.30" y="0.00" font-size="12">1</text></g>
<g transform="translate(227.90 232.20) rotate(-33)" fill="#1fa7e4"><text x="0.00" y="0.00" font-size="12" textLength="68.3" lengthAdjust="spacingAndGlyphs">DD excluded</text></g>
<g transform="translate(262.40 281.80) rotate(-42.4)" fill="#1fa7e4"><text x="0.00" y="0.00" font-size="12" textLength="71.6" lengthAdjust="spacingAndGlyphs">DD prospects</text></g>
<g transform="translate(224.70 306.20) rotate(0)" fill="#dd7420"><text x="0.00" y="0.00" font-size="12.5" textLength="43.9" lengthAdjust="spacingAndGlyphs">no equil.</text></g>
<g transform="translate(288.00 309.80) rotate(-48.5)" fill="#1c1c1c"><text x="0.00" y="0.00" font-size="12" font-style="italic" textLength="9.8" lengthAdjust="spacingAndGlyphs">m</text><text x="10.30" y="2.30" font-size="8.5" font-style="italic" textLength="5.5" lengthAdjust="spacingAndGlyphs">ψ</text><text x="19.00" y="0.50" font-size="14" textLength="9.2" lengthAdjust="spacingAndGlyphs">&lt;</text><text x="31.00" y="0.00" font-size="12" font-style="italic" textLength="9.8" lengthAdjust="spacingAndGlyphs">m</text><text x="41.30" y="2.30" font-size="8.5" font-style="italic" textLength="5.8" lengthAdjust="spacingAndGlyphs">ϕ</text></g>
</g>
</svg>
</body></html>
